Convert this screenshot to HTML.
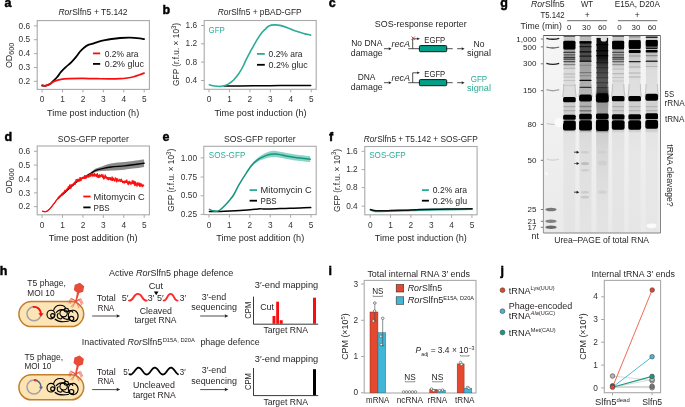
<!DOCTYPE html>
<html><head><meta charset="utf-8"><style>
html,body{margin:0;padding:0;background:#fff;}
svg{display:block;will-change:transform;font-family:"Liberation Sans",sans-serif;}
</style></head><body>
<svg width="685" height="407" viewBox="0 0 685 407" fill="#231f20">
<defs>
<linearGradient id="sm0" x1="0" y1="35.5" x2="0" y2="233.0" gradientUnits="userSpaceOnUse"><stop offset="0.0025" stop-color="#c8c8c8"/><stop offset="0.0253" stop-color="#c3c3c3"/><stop offset="0.0278" stop-color="#141414"/><stop offset="0.0684" stop-color="#141414"/><stop offset="0.0714" stop-color="#a5a5a5"/><stop offset="0.1291" stop-color="#acacac"/><stop offset="0.1494" stop-color="#cdcdcd"/><stop offset="0.1747" stop-color="#dadada"/><stop offset="0.2962" stop-color="#dedede"/><stop offset="0.3418" stop-color="#cdcdcd"/><stop offset="0.3924" stop-color="#cdcdcd"/><stop offset="0.4835" stop-color="#cdcdcd"/><stop offset="0.4937" stop-color="#e2e2e2"/><stop offset="0.6304" stop-color="#e5e5e5"/><stop offset="0.9949" stop-color="#e4e4e4"/></linearGradient>
<linearGradient id="sm1" x1="0" y1="35.5" x2="0" y2="233.0" gradientUnits="userSpaceOnUse"><stop offset="0.0025" stop-color="#bebebe"/><stop offset="0.0253" stop-color="#b9b9b9"/><stop offset="0.0289" stop-color="#282828"/><stop offset="0.0405" stop-color="#464646"/><stop offset="0.1241" stop-color="#505050"/><stop offset="0.1367" stop-color="#a0a0a0"/><stop offset="0.2253" stop-color="#aaaaaa"/><stop offset="0.2962" stop-color="#b9b9b9"/><stop offset="0.3367" stop-color="#b0b0b0"/><stop offset="0.3924" stop-color="#b2b2b2"/><stop offset="0.4835" stop-color="#b2b2b2"/><stop offset="0.4937" stop-color="#dadada"/><stop offset="0.5797" stop-color="#dedede"/><stop offset="0.8329" stop-color="#e2e2e2"/><stop offset="0.9949" stop-color="#e4e4e4"/></linearGradient>
<linearGradient id="sm2" x1="0" y1="35.5" x2="0" y2="233.0" gradientUnits="userSpaceOnUse"><stop offset="0.0025" stop-color="#e1e1e1"/><stop offset="0.0101" stop-color="#d7d7d7"/><stop offset="0.0152" stop-color="#0c0c0c"/><stop offset="0.1139" stop-color="#161616"/><stop offset="0.1544" stop-color="#3c3c3c"/><stop offset="0.2253" stop-color="#555555"/><stop offset="0.2658" stop-color="#505050"/><stop offset="0.2911" stop-color="#3c3c3c"/><stop offset="0.3418" stop-color="#969696"/><stop offset="0.3924" stop-color="#a0a0a0"/><stop offset="0.4835" stop-color="#7d7d7d"/><stop offset="0.4937" stop-color="#cdcdcd"/><stop offset="0.5797" stop-color="#d7d7d7"/><stop offset="0.8329" stop-color="#e1e1e1"/><stop offset="0.9949" stop-color="#e4e4e4"/></linearGradient>
<linearGradient id="sm3" x1="0" y1="35.5" x2="0" y2="233.0" gradientUnits="userSpaceOnUse"><stop offset="0.0025" stop-color="#c8c8c8"/><stop offset="0.0253" stop-color="#c3c3c3"/><stop offset="0.0278" stop-color="#141414"/><stop offset="0.0684" stop-color="#141414"/><stop offset="0.0714" stop-color="#a5a5a5"/><stop offset="0.1291" stop-color="#acacac"/><stop offset="0.1494" stop-color="#cdcdcd"/><stop offset="0.1747" stop-color="#dadada"/><stop offset="0.2962" stop-color="#dedede"/><stop offset="0.3418" stop-color="#cdcdcd"/><stop offset="0.3924" stop-color="#cdcdcd"/><stop offset="0.4835" stop-color="#cdcdcd"/><stop offset="0.4937" stop-color="#e2e2e2"/><stop offset="0.6304" stop-color="#e5e5e5"/><stop offset="0.9949" stop-color="#e4e4e4"/></linearGradient>
<linearGradient id="sm4" x1="0" y1="35.5" x2="0" y2="233.0" gradientUnits="userSpaceOnUse"><stop offset="0.0025" stop-color="#c8c8c8"/><stop offset="0.0228" stop-color="#c3c3c3"/><stop offset="0.0253" stop-color="#141414"/><stop offset="0.0658" stop-color="#141414"/><stop offset="0.0709" stop-color="#b9b9b9"/><stop offset="0.1544" stop-color="#d4d4d4"/><stop offset="0.1747" stop-color="#dcdcdc"/><stop offset="0.2962" stop-color="#e0e0e0"/><stop offset="0.3418" stop-color="#d0d0d0"/><stop offset="0.3924" stop-color="#cecece"/><stop offset="0.4835" stop-color="#cecece"/><stop offset="0.4937" stop-color="#e4e4e4"/><stop offset="0.6304" stop-color="#e7e7e7"/><stop offset="0.9949" stop-color="#e6e6e6"/></linearGradient>
<linearGradient id="sm5" x1="0" y1="35.5" x2="0" y2="233.0" gradientUnits="userSpaceOnUse"><stop offset="0.0025" stop-color="#c8c8c8"/><stop offset="0.0228" stop-color="#c3c3c3"/><stop offset="0.0253" stop-color="#141414"/><stop offset="0.0658" stop-color="#141414"/><stop offset="0.0709" stop-color="#b9b9b9"/><stop offset="0.1544" stop-color="#d4d4d4"/><stop offset="0.1747" stop-color="#dcdcdc"/><stop offset="0.2962" stop-color="#e0e0e0"/><stop offset="0.3418" stop-color="#d0d0d0"/><stop offset="0.3924" stop-color="#cecece"/><stop offset="0.4835" stop-color="#cecece"/><stop offset="0.4937" stop-color="#e4e4e4"/><stop offset="0.6304" stop-color="#e7e7e7"/><stop offset="0.9949" stop-color="#e6e6e6"/></linearGradient>
<linearGradient id="gelbg" x1="0" y1="0" x2="0" y2="1"><stop offset="0" stop-color="#f6f6f6"/><stop offset="0.5" stop-color="#f0f0f0"/><stop offset="1" stop-color="#eaeaea"/></linearGradient>
<filter id="bg" x="-5%" y="-5%" width="110%" height="110%"><feGaussianBlur stdDeviation="0.75"/></filter>
<filter id="b1" x="-20%" y="-20%" width="140%" height="140%"><feGaussianBlur stdDeviation="0.6"/></filter>
<filter id="b2" x="-20%" y="-20%" width="140%" height="140%"><feGaussianBlur stdDeviation="1.0"/></filter>
<filter id="b3" x="-20%" y="-20%" width="140%" height="140%"><feGaussianBlur stdDeviation="2.0"/></filter>
</defs>
<text x="4.60" y="6.90" font-size="12.5" fill="#000" font-weight="bold" stroke="#000" stroke-width="0.45">a</text>
<text x="162.60" y="13.80" font-size="12.5" fill="#000" font-weight="bold" stroke="#000" stroke-width="0.45">b</text>
<text x="328.70" y="6.90" font-size="12.5" fill="#000" font-weight="bold" stroke="#000" stroke-width="0.45">c</text>
<text x="500.30" y="6.90" font-size="12.5" fill="#000" font-weight="bold" stroke="#000" stroke-width="0.45">g</text>
<text x="4.60" y="141.20" font-size="12.5" fill="#000" font-weight="bold" stroke="#000" stroke-width="0.45">d</text>
<text x="162.60" y="141.20" font-size="12.5" fill="#000" font-weight="bold" stroke="#000" stroke-width="0.45">e</text>
<text x="329.10" y="141.20" font-size="12.5" fill="#000" font-weight="bold" stroke="#000" stroke-width="0.45">f</text>
<text x="-0.20" y="274.80" font-size="12.5" fill="#000" font-weight="bold" stroke="#000" stroke-width="0.45">h</text>
<text x="328.60" y="274.80" font-size="12.5" fill="#000" font-weight="bold" stroke="#000" stroke-width="0.45">i</text>
<text x="500.50" y="274.80" font-size="12.5" fill="#000" font-weight="bold" stroke="#000" stroke-width="0.45">j</text>
<rect x="37.20" y="20.60" width="112.20" height="68.80" fill="none" stroke="#a9a9a9" stroke-width="1.1" rx="0" />
<line x1="34.00" y1="25.90" x2="37.20" y2="25.90" stroke="#a9a9a9" stroke-width="1.0" />
<text x="30.10" y="28.50" font-size="8.3" text-anchor="end" fill="#333">0.6</text>
<line x1="34.00" y1="39.70" x2="37.20" y2="39.70" stroke="#a9a9a9" stroke-width="1.0" />
<text x="30.10" y="42.30" font-size="8.3" text-anchor="end" fill="#333">0.5</text>
<line x1="34.00" y1="53.60" x2="37.20" y2="53.60" stroke="#a9a9a9" stroke-width="1.0" />
<text x="30.10" y="56.20" font-size="8.3" text-anchor="end" fill="#333">0.4</text>
<line x1="34.00" y1="67.50" x2="37.20" y2="67.50" stroke="#a9a9a9" stroke-width="1.0" />
<text x="30.10" y="70.10" font-size="8.3" text-anchor="end" fill="#333">0.3</text>
<line x1="34.00" y1="81.30" x2="37.20" y2="81.30" stroke="#a9a9a9" stroke-width="1.0" />
<text x="30.10" y="83.90" font-size="8.3" text-anchor="end" fill="#333">0.2</text>
<line x1="42.10" y1="89.40" x2="42.10" y2="92.40" stroke="#a9a9a9" stroke-width="1.0" />
<text x="42.10" y="102.20" font-size="8.3" text-anchor="middle" fill="#333">0</text>
<line x1="62.52" y1="89.40" x2="62.52" y2="92.40" stroke="#a9a9a9" stroke-width="1.0" />
<text x="62.52" y="102.20" font-size="8.3" text-anchor="middle" fill="#333">1</text>
<line x1="82.94" y1="89.40" x2="82.94" y2="92.40" stroke="#a9a9a9" stroke-width="1.0" />
<text x="82.94" y="102.20" font-size="8.3" text-anchor="middle" fill="#333">2</text>
<line x1="103.36" y1="89.40" x2="103.36" y2="92.40" stroke="#a9a9a9" stroke-width="1.0" />
<text x="103.36" y="102.20" font-size="8.3" text-anchor="middle" fill="#333">3</text>
<line x1="123.78" y1="89.40" x2="123.78" y2="92.40" stroke="#a9a9a9" stroke-width="1.0" />
<text x="123.78" y="102.20" font-size="8.3" text-anchor="middle" fill="#333">4</text>
<line x1="144.20" y1="89.40" x2="144.20" y2="92.40" stroke="#a9a9a9" stroke-width="1.0" />
<text x="144.20" y="102.20" font-size="8.3" text-anchor="middle" fill="#333">5</text>
<text x="58.40" y="14.90" font-size="9.2" textLength="69.20" lengthAdjust="spacingAndGlyphs"><tspan font-style="italic">Ror</tspan>Slfn5 + T5.142</text>
<text x="47.10" y="115.70" font-size="9.2" textLength="92.10" lengthAdjust="spacingAndGlyphs">Time post induction (h)</text>
<text x="0" y="0" font-size="8.9" transform="translate(11.9 68.10) rotate(-90)" fill="#231f20">OD<tspan font-size="7.2" dy="2.1">600</tspan></text>
<path d="M42.20,85.50 C42.83,85.53 44.57,86.05 46.00,85.70 C47.43,85.35 49.58,84.20 50.80,83.40 C52.02,82.60 52.23,81.97 53.30,80.90 C54.37,79.83 55.92,78.50 57.20,77.00 C58.48,75.50 59.52,73.60 61.00,71.90 C62.48,70.20 64.40,68.40 66.10,66.80 C67.80,65.20 69.50,64.00 71.20,62.30 C72.90,60.60 74.82,58.40 76.30,56.60 C77.78,54.80 78.82,52.98 80.10,51.50 C81.38,50.02 82.72,48.77 84.00,47.70 C85.28,46.63 86.32,45.78 87.80,45.10 C89.28,44.42 91.20,44.13 92.90,43.60 C94.60,43.07 95.98,42.47 98.00,41.90 C100.02,41.33 102.75,40.68 105.00,40.20 C107.25,39.72 109.00,39.37 111.50,39.00 C114.00,38.63 116.95,38.23 120.00,38.00 C123.05,37.77 126.50,37.53 129.80,37.60 C133.10,37.67 137.42,38.13 139.80,38.40 C142.18,38.67 143.38,39.07 144.10,39.20" fill="none" stroke="#000" stroke-width="1.8" stroke-linejoin="round" stroke-linecap="round" />
<path d="M42.00,85.30 C42.62,85.37 44.23,86.02 45.70,85.70 C47.17,85.38 49.32,84.17 50.80,83.40 C52.28,82.63 52.90,81.78 54.60,81.10 C56.30,80.42 58.45,79.72 61.00,79.30 C63.55,78.88 66.28,78.77 69.90,78.60 C73.52,78.43 78.02,78.28 82.70,78.30 C87.38,78.32 93.45,78.60 98.00,78.70 C102.55,78.80 106.33,78.90 110.00,78.90 C113.67,78.90 117.17,78.85 120.00,78.70 C122.83,78.55 124.70,78.33 127.00,78.00 C129.30,77.67 131.80,77.20 133.80,76.70 C135.80,76.20 137.28,75.60 139.00,75.00 C140.72,74.40 143.25,73.42 144.10,73.10" fill="none" stroke="#fb0d0d" stroke-width="1.7" stroke-linejoin="round" stroke-linecap="round" />
<line x1="93.00" y1="53.40" x2="100.20" y2="53.40" stroke="#fb0d0d" stroke-width="1.8" />
<text x="104.70" y="56.50" font-size="9.2" textLength="33.80" lengthAdjust="spacingAndGlyphs">0.2% ara</text>
<line x1="93.00" y1="63.90" x2="100.20" y2="63.90" stroke="#000" stroke-width="1.8" />
<text x="104.70" y="67.00" font-size="9.2" textLength="39.20" lengthAdjust="spacingAndGlyphs">0.2% gluc</text>
<rect x="37.20" y="146.00" width="112.20" height="68.80" fill="none" stroke="#a9a9a9" stroke-width="1.1" rx="0" />
<line x1="34.00" y1="151.30" x2="37.20" y2="151.30" stroke="#a9a9a9" stroke-width="1.0" />
<text x="30.10" y="153.90" font-size="8.3" text-anchor="end" fill="#333">0.6</text>
<line x1="34.00" y1="165.10" x2="37.20" y2="165.10" stroke="#a9a9a9" stroke-width="1.0" />
<text x="30.10" y="167.70" font-size="8.3" text-anchor="end" fill="#333">0.5</text>
<line x1="34.00" y1="179.00" x2="37.20" y2="179.00" stroke="#a9a9a9" stroke-width="1.0" />
<text x="30.10" y="181.60" font-size="8.3" text-anchor="end" fill="#333">0.4</text>
<line x1="34.00" y1="192.90" x2="37.20" y2="192.90" stroke="#a9a9a9" stroke-width="1.0" />
<text x="30.10" y="195.50" font-size="8.3" text-anchor="end" fill="#333">0.3</text>
<line x1="34.00" y1="206.70" x2="37.20" y2="206.70" stroke="#a9a9a9" stroke-width="1.0" />
<text x="30.10" y="209.30" font-size="8.3" text-anchor="end" fill="#333">0.2</text>
<line x1="42.10" y1="214.80" x2="42.10" y2="217.80" stroke="#a9a9a9" stroke-width="1.0" />
<text x="42.10" y="227.60" font-size="8.3" text-anchor="middle" fill="#333">0</text>
<line x1="62.52" y1="214.80" x2="62.52" y2="217.80" stroke="#a9a9a9" stroke-width="1.0" />
<text x="62.52" y="227.60" font-size="8.3" text-anchor="middle" fill="#333">1</text>
<line x1="82.94" y1="214.80" x2="82.94" y2="217.80" stroke="#a9a9a9" stroke-width="1.0" />
<text x="82.94" y="227.60" font-size="8.3" text-anchor="middle" fill="#333">2</text>
<line x1="103.36" y1="214.80" x2="103.36" y2="217.80" stroke="#a9a9a9" stroke-width="1.0" />
<text x="103.36" y="227.60" font-size="8.3" text-anchor="middle" fill="#333">3</text>
<line x1="123.78" y1="214.80" x2="123.78" y2="217.80" stroke="#a9a9a9" stroke-width="1.0" />
<text x="123.78" y="227.60" font-size="8.3" text-anchor="middle" fill="#333">4</text>
<line x1="144.20" y1="214.80" x2="144.20" y2="217.80" stroke="#a9a9a9" stroke-width="1.0" />
<text x="144.20" y="227.60" font-size="8.3" text-anchor="middle" fill="#333">5</text>
<text x="57.80" y="142.00" font-size="9.2" textLength="71.00" lengthAdjust="spacingAndGlyphs">SOS-GFP reporter</text>
<text x="48.70" y="241.10" font-size="9.2" textLength="89.00" lengthAdjust="spacingAndGlyphs">Time post addition (h)</text>
<text x="0" y="0" font-size="8.9" transform="translate(11.9 193.50) rotate(-90)" fill="#231f20">OD<tspan font-size="7.2" dy="2.1">600</tspan></text>
<path d="M58.00,197.90 C58.33,197.60 59.05,196.93 60.00,196.10 C60.95,195.27 62.08,194.33 63.70,192.90 C65.32,191.47 67.70,189.27 69.70,187.50 C71.70,185.73 73.82,183.80 75.70,182.30 C77.58,180.80 79.28,179.58 81.00,178.50 C82.72,177.42 84.27,176.91 86.00,175.80 C87.73,174.69 89.77,173.05 91.40,171.85 C93.03,170.66 93.97,169.58 95.80,168.62 C97.63,167.67 99.85,166.99 102.40,166.13 C104.95,165.28 107.45,164.16 111.10,163.49 C114.75,162.82 120.65,162.51 124.30,162.10 C127.95,161.69 129.90,161.42 133.00,161.00 C136.10,160.58 141.05,159.85 142.90,159.60 C144.75,159.35 143.90,159.52 144.10,159.50 L144.10,167.10 C143.90,167.12 144.75,166.95 142.90,167.20 C141.05,167.45 136.10,168.18 133.00,168.60 C129.90,169.02 127.95,169.38 124.30,169.70 C120.65,170.02 114.75,170.28 111.10,170.51 C107.45,170.74 104.95,170.82 102.40,171.07 C99.85,171.31 97.63,171.46 95.80,171.98 C93.97,172.49 93.03,173.34 91.40,174.15 C89.77,174.95 87.73,175.91 86.00,176.80 C84.27,177.69 82.72,178.42 81.00,179.50 C79.28,180.58 77.58,181.80 75.70,183.30 C73.82,184.80 71.70,186.73 69.70,188.50 C67.70,190.27 65.32,192.47 63.70,193.90 C62.08,195.33 60.95,196.27 60.00,197.10 C59.05,197.93 58.33,198.60 58.00,198.90 Z" fill="#7c7c7c" opacity="0.9"/>
<path d="M58.00,198.40 C58.33,198.10 59.05,197.43 60.00,196.60 C60.95,195.77 62.08,194.83 63.70,193.40 C65.32,191.97 67.70,189.77 69.70,188.00 C71.70,186.23 73.82,184.30 75.70,182.80 C77.58,181.30 79.28,180.08 81.00,179.00 C82.72,177.92 84.27,177.30 86.00,176.30 C87.73,175.30 89.77,174.00 91.40,173.00 C93.03,172.00 93.97,171.03 95.80,170.30 C97.63,169.57 99.85,169.15 102.40,168.60 C104.95,168.05 107.45,167.45 111.10,167.00 C114.75,166.55 120.65,166.27 124.30,165.90 C127.95,165.53 129.90,165.22 133.00,164.80 C136.10,164.38 141.05,163.65 142.90,163.40 C144.75,163.15 143.90,163.32 144.10,163.30" fill="none" stroke="#000" stroke-width="1.4" stroke-linejoin="round" stroke-linecap="round" />
<path d="M42.20,211.12 L42.50,211.28 L42.80,211.29 L43.10,211.43 L43.40,211.50 L43.70,211.40 L44.00,211.45 L44.30,211.76 L44.60,211.61 L44.90,211.54 L45.20,211.71 L45.50,211.49 L45.80,211.54 L46.10,211.37 L46.40,211.36 L46.70,211.16 L47.00,211.24 L47.30,211.05 L47.60,210.69 L47.90,210.49 L48.20,210.21 L48.50,209.77 L48.80,209.72 L49.10,209.41 L49.40,209.06 L49.70,208.72 L50.00,208.71 L50.30,208.22 L50.60,207.93 L50.90,207.61 L51.20,207.19 L51.50,206.89 L51.80,206.36 L52.10,206.12 L52.40,205.64 L52.70,205.42 L53.00,205.04 L53.30,204.44 L53.60,204.08 L53.90,203.74 L54.20,203.56 L54.50,202.98 L54.80,202.62 L55.10,202.11 L55.40,201.75 L55.70,201.29 L56.00,200.87 L56.30,200.52 L56.60,200.10 L56.90,199.78 L57.20,199.29 L57.50,198.95 L57.80,198.51 L58.10,199.09 L58.40,198.15 L58.70,196.84 L59.00,197.94 L59.30,197.85 L59.60,197.44 L59.90,196.47 L60.20,196.47 L60.50,195.17 L60.80,196.11 L61.10,195.30 L61.40,194.43 L61.70,193.69 L62.00,194.98 L62.30,194.96 L62.60,192.86 L62.90,193.99 L63.20,192.91 L63.50,192.10 L63.80,192.09 L64.10,192.76 L64.40,192.69 L64.70,190.76 L65.00,191.62 L65.30,190.20 L65.60,191.26 L65.90,190.21 L66.20,191.03 L66.50,190.95 L66.80,189.72 L67.10,190.42 L67.40,188.77 L67.70,188.02 L68.00,188.79 L68.30,186.24 L68.60,186.70 L68.90,187.34 L69.20,187.95 L69.50,185.67 L69.80,184.90 L70.10,188.28 L70.40,185.60 L70.70,188.18 L71.00,187.66 L71.30,185.13 L71.60,185.24 L71.90,185.25 L72.20,185.55 L72.50,185.09 L72.80,184.68 L73.10,184.70 L73.40,185.86 L73.70,183.70 L74.00,183.11 L74.30,184.14 L74.60,181.76 L74.90,181.79 L75.20,184.52 L75.50,182.26 L75.80,182.16 L76.10,179.62 L76.40,181.23 L76.70,181.79 L77.00,179.15 L77.30,181.60 L77.60,181.51 L77.90,178.82 L78.20,181.15 L78.50,180.27 L78.80,181.03 L79.10,179.43 L79.40,180.82 L79.70,180.78 L80.00,177.46 L80.30,177.46 L80.60,180.00 L80.90,181.10 L81.20,177.82 L81.50,178.61 L81.80,179.09 L82.10,177.77 L82.40,177.84 L82.70,177.50 L83.00,177.62 L83.30,178.50 L83.60,177.08 L83.90,177.30 L84.20,178.92 L84.50,175.52 L84.80,177.78 L85.10,178.39 L85.40,176.40 L85.70,175.90 L86.00,178.34 L86.30,175.73 L86.60,175.38 L86.90,176.35 L87.20,177.38 L87.50,174.64 L87.80,175.48 L88.10,175.41 L88.40,177.49 L88.70,175.63 L89.00,177.34 L89.30,174.20 L89.60,174.81 L89.90,176.07 L90.20,176.98 L90.50,174.95 L90.80,173.83 L91.10,173.25 L91.40,174.93 L91.70,173.45 L92.00,176.18 L92.30,176.33 L92.60,173.46 L92.90,173.89 L93.20,176.23 L93.50,175.52 L93.80,176.25 L94.10,174.24 L94.40,173.30 L94.70,174.03 L95.00,176.25 L95.30,173.96 L95.60,174.31 L95.90,174.63 L96.20,174.69 L96.50,174.70 L96.80,177.01 L97.10,173.71 L97.40,173.10 L97.70,177.30 L98.00,177.08 L98.30,177.61 L98.60,175.24 L98.90,177.57 L99.20,177.53 L99.50,174.49 L99.80,176.85 L100.10,177.31 L100.40,176.61 L100.70,176.04 L101.00,175.09 L101.30,175.38 L101.60,174.94 L101.90,174.30 L102.20,176.65 L102.50,175.39 L102.80,177.79 L103.10,174.51 L103.40,178.38 L103.70,177.55 L104.00,178.65 L104.30,178.62 L104.60,178.72 L104.90,177.40 L105.20,175.01 L105.50,178.32 L105.80,175.89 L106.10,176.54 L106.40,178.23 L106.70,177.71 L107.00,177.31 L107.30,179.72 L107.60,178.37 L107.90,177.27 L108.20,176.97 L108.50,179.74 L108.80,178.14 L109.10,179.57 L109.40,177.77 L109.70,177.18 L110.00,178.75 L110.30,180.09 L110.60,177.34 L110.90,180.16 L111.20,180.82 L111.50,180.40 L111.80,180.57 L112.10,177.07 L112.40,179.89 L112.70,181.01 L113.00,177.53 L113.30,178.59 L113.60,178.64 L113.90,179.84 L114.20,179.44 L114.50,179.72 L114.80,181.12 L115.10,177.77 L115.40,178.06 L115.70,178.44 L116.00,178.49 L116.30,178.30 L116.60,182.35 L116.90,181.88 L117.20,178.56 L117.50,180.45 L117.80,179.69 L118.10,179.74 L118.40,179.97 L118.70,181.33 L119.00,181.12 L119.30,180.19 L119.60,179.50 L119.90,180.17 L120.20,179.32 L120.50,181.28 L120.80,182.05 L121.10,180.63 L121.40,179.37 L121.70,179.87 L122.00,180.78 L122.30,181.86 L122.60,182.70 L122.90,180.99 L123.20,182.91 L123.50,182.18 L123.80,181.40 L124.10,181.20 L124.40,181.80 L124.70,182.75 L125.00,181.55 L125.30,182.80 L125.60,181.82 L125.90,180.91 L126.20,182.24 L126.50,182.98 L126.80,180.28 L127.10,181.88 L127.40,181.93 L127.70,183.97 L128.00,184.26 L128.30,181.83 L128.60,184.18 L128.90,183.76 L129.20,181.47 L129.50,182.41 L129.80,180.95 L130.10,184.03 L130.40,183.41 L130.70,184.44 L131.00,184.07 L131.30,183.56 L131.60,183.90 L131.90,183.20 L132.20,181.21 L132.50,183.39 L132.80,180.87 L133.10,181.52 L133.40,184.34 L133.70,181.17 L134.00,181.43 L134.30,181.50 L134.60,184.99 L134.90,181.94 L135.20,181.30 L135.50,184.99 L135.80,181.91 L136.10,185.17 L136.40,184.51 L136.70,185.31 L137.00,185.90 L137.30,184.35 L137.60,185.40 L137.90,182.13 L138.20,185.43 L138.50,184.39 L138.80,185.38 L139.10,182.78 L139.40,185.70 L139.70,186.60 L140.00,182.84 L140.30,184.08 L140.60,185.22 L140.90,186.47 L141.20,183.98 L141.50,183.79 L141.80,184.19 L142.10,185.88 L142.40,186.57 L142.70,185.08 L143.00,185.03 L143.30,185.21 L143.60,185.06 L143.90,185.41" fill="none" stroke="#fb0d0d" stroke-width="0.8" stroke-linejoin="round"/>
<path d="M42.20,211.02 L42.50,211.28 L42.80,211.40 L43.10,211.41 L43.40,211.56 L43.70,211.31 L44.00,211.49 L44.30,211.82 L44.60,211.65 L44.90,211.54 L45.20,211.70 L45.50,211.53 L45.80,211.64 L46.10,211.29 L46.40,211.26 L46.70,211.21 L47.00,211.34 L47.30,211.05 L47.60,210.67 L47.90,210.54 L48.20,210.14 L48.50,209.71 L48.80,209.65 L49.10,209.43 L49.40,209.02 L49.70,208.66 L50.00,208.76 L50.30,208.33 L50.60,207.88 L50.90,207.66 L51.20,207.17 L51.50,206.97 L51.80,206.38 L52.10,206.06 L52.40,205.58 L52.70,205.31 L53.00,205.03 L53.30,204.41 L53.60,204.00 L53.90,203.70 L54.20,203.52 L54.50,203.05 L54.80,202.54 L55.10,202.22 L55.40,201.74 L55.70,201.32 L56.00,200.86 L56.30,200.60 L56.60,200.18 L56.90,199.79 L57.20,199.29 L57.50,199.00 L57.80,198.59 L58.10,199.06 L58.40,198.21 L58.70,196.95 L59.00,197.93 L59.30,197.79 L59.60,197.38 L59.90,196.53 L60.20,196.51 L60.50,195.28 L60.80,196.20 L61.10,195.24 L61.40,194.36 L61.70,193.64 L62.00,194.90 L62.30,195.45 L62.60,193.72 L62.90,194.95 L63.20,192.32 L63.50,192.97 L63.80,191.65 L64.10,192.58 L64.40,193.24 L64.70,189.76 L65.00,190.64 L65.30,191.00 L65.60,190.76 L65.90,189.86 L66.20,191.22 L66.50,191.37 L66.80,188.53 L67.10,190.03 L67.40,188.61 L67.70,187.99 L68.00,188.09 L68.30,186.45 L68.60,187.79 L68.90,187.08 L69.20,188.06 L69.50,184.76 L69.80,184.36 L70.10,188.68 L70.40,184.67 L70.70,189.11 L71.00,188.64 L71.30,184.16 L71.60,186.30 L71.90,184.95 L72.20,186.20 L72.50,185.71 L72.80,184.19 L73.10,185.12 L73.40,186.23 L73.70,184.43 L74.00,182.55 L74.30,184.75 L74.60,182.87 L74.90,182.21 L75.20,184.61 L75.50,181.33 L75.80,182.14 L76.10,179.27 L76.40,181.75 L76.70,182.21 L77.00,179.31 L77.30,180.84 L77.60,181.86 L77.90,179.13 L78.20,180.38 L78.50,181.20 L78.80,181.41 L79.10,178.52 L79.40,181.85 L79.70,179.92 L80.00,177.06 L80.30,177.99 L80.60,180.23 L80.90,181.23 L81.20,178.18 L81.50,178.51 L81.80,178.64 L82.10,176.99 L82.40,176.81 L82.70,178.01 L83.00,178.24 L83.30,178.60 L83.60,177.66 L83.90,176.96 L84.20,178.36 L84.50,175.24 L84.80,178.68 L85.10,177.30 L85.40,176.42 L85.70,175.29 L86.00,178.98 L86.30,175.38 L86.60,174.98 L86.90,176.12 L87.20,177.48 L87.50,175.29 L87.80,175.13 L88.10,176.25 L88.40,176.56 L88.70,175.08 L89.00,176.38 L89.30,173.27 L89.60,175.48 L89.90,176.62 L90.20,176.23 L90.50,174.21 L90.80,173.63 L91.10,173.84 L91.40,175.69 L91.70,174.05 L92.00,176.40 L92.30,175.48 L92.60,173.22 L92.90,173.16 L93.20,176.30 L93.50,175.68 L93.80,175.54 L94.10,173.64 L94.40,173.98 L94.70,172.90 L95.00,176.98 L95.30,174.90 L95.60,175.38 L95.90,174.35 L96.20,174.81 L96.50,174.90 L96.80,177.33 L97.10,174.85 L97.40,173.55 L97.70,176.81 L98.00,177.94 L98.30,177.57 L98.60,175.48 L98.90,178.11 L99.20,176.34 L99.50,175.14 L99.80,177.24 L100.10,177.29 L100.40,176.67 L100.70,175.94 L101.00,174.35 L101.30,175.45 L101.60,173.83 L101.90,174.30 L102.20,177.00 L102.50,175.26 L102.80,177.94 L103.10,175.61 L103.40,179.32 L103.70,176.67 L104.00,179.35 L104.30,178.92 L104.60,177.65 L104.90,177.06 L105.20,174.37 L105.50,177.30 L105.80,175.98 L106.10,177.57 L106.40,177.80 L106.70,178.60 L107.00,177.78 L107.30,178.84 L107.60,179.23 L107.90,177.51 L108.20,177.99 L108.50,180.26 L108.80,178.71 L109.10,179.20 L109.40,178.50 L109.70,178.21 L110.00,179.62 L110.30,179.93 L110.60,177.95 L110.90,180.12 L111.20,179.88 L111.50,179.30 L111.80,179.56 L112.10,176.35 L112.40,179.08 L112.70,181.01 L113.00,178.01 L113.30,178.68 L113.60,178.45 L113.90,180.20 L114.20,178.97 L114.50,179.64 L114.80,181.73 L115.10,177.53 L115.40,177.29 L115.70,179.40 L116.00,179.02 L116.30,177.98 L116.60,182.04 L116.90,181.95 L117.20,178.79 L117.50,179.79 L117.80,178.50 L118.10,179.05 L118.40,180.65 L118.70,180.47 L119.00,181.03 L119.30,179.46 L119.60,178.80 L119.90,179.38 L120.20,179.09 L120.50,180.49 L120.80,180.92 L121.10,179.70 L121.40,178.58 L121.70,179.84 L122.00,179.73 L122.30,180.71 L122.60,182.58 L122.90,180.77 L123.20,183.39 L123.50,181.10 L123.80,181.17 L124.10,180.95 L124.40,180.66 L124.70,183.87 L125.00,180.88 L125.30,181.83 L125.60,181.76 L125.90,180.11 L126.20,182.53 L126.50,182.61 L126.80,179.38 L127.10,180.81 L127.40,182.48 L127.70,183.43 L128.00,184.95 L128.30,181.75 L128.60,185.22 L128.90,183.28 L129.20,180.87 L129.50,181.84 L129.80,181.70 L130.10,184.34 L130.40,183.04 L130.70,183.47 L131.00,184.51 L131.30,184.69 L131.60,184.12 L131.90,182.01 L132.20,180.09 L132.50,182.41 L132.80,180.08 L133.10,180.41 L133.40,183.27 L133.70,181.55 L134.00,182.39 L134.30,180.79 L134.60,186.12 L134.90,181.89 L135.20,182.03 L135.50,185.99 L135.80,182.96 L136.10,184.05 L136.40,184.04 L136.70,185.56 L137.00,186.98 L137.30,183.36 L137.60,184.90 L137.90,182.97 L138.20,184.51 L138.50,184.13 L138.80,184.98 L139.10,183.22 L139.40,186.72 L139.70,185.82 L140.00,183.42 L140.30,184.65 L140.60,186.03 L140.90,186.60 L141.20,185.00 L141.50,183.46 L141.80,183.98 L142.10,185.23 L142.40,187.24 L142.70,185.03 L143.00,184.48 L143.30,184.42 L143.60,185.59 L143.90,185.66" fill="none" stroke="#fb0d0d" stroke-width="0.7" stroke-linejoin="round" opacity="0.8"/>
<path d="M42.20,211.20 C42.58,211.28 43.70,211.70 44.50,211.70 C45.30,211.70 46.08,211.72 47.00,211.20 C47.92,210.68 48.83,209.85 50.00,208.60 C51.17,207.35 52.70,205.40 54.00,203.70 C55.30,202.00 56.18,200.25 57.80,198.40 C59.42,196.55 61.72,194.50 63.70,192.60 C65.68,190.70 67.70,188.77 69.70,187.00 C71.70,185.23 73.82,183.33 75.70,182.00 C77.58,180.67 79.28,179.83 81.00,179.00 C82.72,178.17 84.27,177.70 86.00,177.00 C87.73,176.30 89.73,175.13 91.40,174.80 C93.07,174.47 94.17,174.75 96.00,175.00 C97.83,175.25 99.52,175.53 102.40,176.30 C105.28,177.07 109.65,178.68 113.30,179.60 C116.95,180.52 120.65,181.17 124.30,181.80 C127.95,182.43 132.10,182.77 135.20,183.40 C138.30,184.03 141.42,185.20 142.90,185.60 C144.38,186.00 143.90,185.77 144.10,185.80" fill="none" stroke="#fb0d0d" stroke-width="1.3"/>
<line x1="83.30" y1="196.50" x2="90.60" y2="196.50" stroke="#fb0d0d" stroke-width="1.8" />
<text x="93.60" y="199.60" font-size="9.2" textLength="51.10" lengthAdjust="spacingAndGlyphs">Mitomycin C</text>
<line x1="83.30" y1="207.40" x2="90.60" y2="207.40" stroke="#000" stroke-width="1.8" />
<text x="93.60" y="210.50" font-size="9.2" textLength="16.00" lengthAdjust="spacingAndGlyphs">PBS</text>
<rect x="204.20" y="20.50" width="112.00" height="68.80" fill="none" stroke="#a9a9a9" stroke-width="1.1" rx="0" />
<line x1="201.00" y1="25.50" x2="204.20" y2="25.50" stroke="#a9a9a9" stroke-width="1.0" />
<text x="197.10" y="28.10" font-size="8.3" text-anchor="end" fill="#333">1.6</text>
<line x1="201.00" y1="43.80" x2="204.20" y2="43.80" stroke="#a9a9a9" stroke-width="1.0" />
<text x="197.10" y="46.40" font-size="8.3" text-anchor="end" fill="#333">1.2</text>
<line x1="201.00" y1="62.10" x2="204.20" y2="62.10" stroke="#a9a9a9" stroke-width="1.0" />
<text x="197.10" y="64.70" font-size="8.3" text-anchor="end" fill="#333">0.8</text>
<line x1="201.00" y1="80.50" x2="204.20" y2="80.50" stroke="#a9a9a9" stroke-width="1.0" />
<text x="197.10" y="83.10" font-size="8.3" text-anchor="end" fill="#333">0.4</text>
<line x1="209.00" y1="89.30" x2="209.00" y2="92.30" stroke="#a9a9a9" stroke-width="1.0" />
<text x="209.00" y="102.20" font-size="8.3" text-anchor="middle" fill="#333">0</text>
<line x1="229.45" y1="89.30" x2="229.45" y2="92.30" stroke="#a9a9a9" stroke-width="1.0" />
<text x="229.45" y="102.20" font-size="8.3" text-anchor="middle" fill="#333">1</text>
<line x1="249.90" y1="89.30" x2="249.90" y2="92.30" stroke="#a9a9a9" stroke-width="1.0" />
<text x="249.90" y="102.20" font-size="8.3" text-anchor="middle" fill="#333">2</text>
<line x1="270.35" y1="89.30" x2="270.35" y2="92.30" stroke="#a9a9a9" stroke-width="1.0" />
<text x="270.35" y="102.20" font-size="8.3" text-anchor="middle" fill="#333">3</text>
<line x1="290.80" y1="89.30" x2="290.80" y2="92.30" stroke="#a9a9a9" stroke-width="1.0" />
<text x="290.80" y="102.20" font-size="8.3" text-anchor="middle" fill="#333">4</text>
<line x1="311.25" y1="89.30" x2="311.25" y2="92.30" stroke="#a9a9a9" stroke-width="1.0" />
<text x="311.25" y="102.20" font-size="8.3" text-anchor="middle" fill="#333">5</text>
<text x="217.80" y="14.90" font-size="9.2" textLength="83.90" lengthAdjust="spacingAndGlyphs"><tspan font-style="italic">Ror</tspan>Slfn5 + pBAD-GFP</text>
<text x="214.40" y="115.70" font-size="9.2" textLength="92.10" lengthAdjust="spacingAndGlyphs">Time post induction (h)</text>
<text x="0" y="0" font-size="8.9" text-anchor="middle" textLength="63" lengthAdjust="spacingAndGlyphs" transform="translate(179.40 54.40) rotate(-90)">GFP (r.f.u. × 10<tspan font-size="6.3" dy="-3.3">3</tspan><tspan dy="3.3">)</tspan></text>
<text x="208.60" y="32.50" font-size="9.2" fill="#2aac96" textLength="16.20" lengthAdjust="spacingAndGlyphs">GFP</text>
<path d="M224.20,86.00 C226.83,85.98 234.03,85.93 240.00,85.90 C245.97,85.87 253.33,85.85 260.00,85.80 C266.67,85.75 273.33,85.67 280.00,85.60 C286.67,85.53 294.88,85.43 300.00,85.40 C305.12,85.37 308.92,85.40 310.70,85.40" fill="none" stroke="#000" stroke-width="1.5" stroke-linejoin="round" stroke-linecap="round" />
<path d="M209.40,84.80 C210.00,84.95 211.73,85.47 213.00,85.70 C214.27,85.93 215.78,86.08 217.00,86.20 C218.22,86.32 218.97,86.52 220.30,86.40 C221.63,86.28 223.43,86.05 225.00,85.50 C226.57,84.95 228.27,84.02 229.70,83.10 C231.13,82.18 232.28,81.30 233.60,80.00 C234.92,78.70 236.42,76.87 237.60,75.30 C238.78,73.73 239.72,72.23 240.70,70.60 C241.68,68.97 242.65,67.20 243.50,65.50 C244.35,63.80 244.75,62.55 245.80,60.40 C246.85,58.25 248.48,55.05 249.80,52.60 C251.12,50.15 252.40,48.00 253.70,45.70 C255.00,43.40 256.28,40.93 257.60,38.80 C258.92,36.67 260.28,34.53 261.60,32.90 C262.92,31.27 264.28,30.17 265.50,29.00 C266.72,27.83 267.35,26.58 268.90,25.90 C270.45,25.22 272.98,24.98 274.80,24.90 C276.62,24.82 277.65,24.90 279.80,25.40 C281.95,25.90 285.05,26.98 287.70,27.90 C290.35,28.82 293.05,29.98 295.70,30.90 C298.35,31.82 301.12,32.70 303.60,33.40 C306.08,34.10 309.43,34.82 310.60,35.10" fill="none" stroke="#2aac96" stroke-width="1.6" stroke-linejoin="round" stroke-linecap="round" />
<line x1="257.00" y1="53.90" x2="264.80" y2="53.90" stroke="#2aac96" stroke-width="1.8" />
<text x="268.60" y="57.20" font-size="9.2" textLength="33.80" lengthAdjust="spacingAndGlyphs">0.2% ara</text>
<line x1="257.00" y1="64.80" x2="264.80" y2="64.80" stroke="#000" stroke-width="1.8" />
<text x="268.60" y="68.00" font-size="9.2" textLength="39.20" lengthAdjust="spacingAndGlyphs">0.2% gluc</text>
<rect x="203.80" y="146.30" width="112.40" height="68.30" fill="none" stroke="#a9a9a9" stroke-width="1.1" rx="0" />
<line x1="200.60" y1="157.90" x2="203.80" y2="157.90" stroke="#a9a9a9" stroke-width="1.0" />
<text x="197.00" y="160.50" font-size="8.3" text-anchor="end" fill="#333">1.00</text>
<line x1="200.60" y1="177.00" x2="203.80" y2="177.00" stroke="#a9a9a9" stroke-width="1.0" />
<text x="197.00" y="179.60" font-size="8.3" text-anchor="end" fill="#333">0.75</text>
<line x1="200.60" y1="195.80" x2="203.80" y2="195.80" stroke="#a9a9a9" stroke-width="1.0" />
<text x="197.00" y="198.40" font-size="8.3" text-anchor="end" fill="#333">0.50</text>
<line x1="200.60" y1="214.40" x2="203.80" y2="214.40" stroke="#a9a9a9" stroke-width="1.0" />
<text x="197.00" y="217.00" font-size="8.3" text-anchor="end" fill="#333">0.25</text>
<line x1="209.00" y1="214.60" x2="209.00" y2="217.60" stroke="#a9a9a9" stroke-width="1.0" />
<text x="209.00" y="227.60" font-size="8.3" text-anchor="middle" fill="#333">0</text>
<line x1="229.40" y1="214.60" x2="229.40" y2="217.60" stroke="#a9a9a9" stroke-width="1.0" />
<text x="229.40" y="227.60" font-size="8.3" text-anchor="middle" fill="#333">1</text>
<line x1="249.80" y1="214.60" x2="249.80" y2="217.60" stroke="#a9a9a9" stroke-width="1.0" />
<text x="249.80" y="227.60" font-size="8.3" text-anchor="middle" fill="#333">2</text>
<line x1="270.20" y1="214.60" x2="270.20" y2="217.60" stroke="#a9a9a9" stroke-width="1.0" />
<text x="270.20" y="227.60" font-size="8.3" text-anchor="middle" fill="#333">3</text>
<line x1="290.60" y1="214.60" x2="290.60" y2="217.60" stroke="#a9a9a9" stroke-width="1.0" />
<text x="290.60" y="227.60" font-size="8.3" text-anchor="middle" fill="#333">4</text>
<line x1="311.00" y1="214.60" x2="311.00" y2="217.60" stroke="#a9a9a9" stroke-width="1.0" />
<text x="311.00" y="227.60" font-size="8.3" text-anchor="middle" fill="#333">5</text>
<text x="224.10" y="142.00" font-size="9.2" textLength="71.60" lengthAdjust="spacingAndGlyphs">SOS-GFP reporter</text>
<text x="216.20" y="241.30" font-size="9.2" textLength="88.00" lengthAdjust="spacingAndGlyphs">Time post addition (h)</text>
<text x="0" y="0" font-size="8.9" text-anchor="middle" textLength="63" lengthAdjust="spacingAndGlyphs" transform="translate(174.00 180.30) rotate(-90)">GFP (r.f.u. × 10<tspan font-size="6.3" dy="-3.3">3</tspan><tspan dy="3.3">)</tspan></text>
<text x="208.80" y="157.90" font-size="9.2" fill="#2aac96" textLength="36.50" lengthAdjust="spacingAndGlyphs">SOS-GFP</text>
<path d="M209.40,209.10 C209.92,209.32 211.32,210.10 212.50,210.40 C213.68,210.70 215.37,210.93 216.50,210.90 C217.63,210.87 217.95,211.10 219.30,210.20 C220.65,209.30 222.82,207.28 224.60,205.50 C226.38,203.72 228.45,201.38 230.00,199.50 C231.55,197.62 232.58,196.40 233.90,194.20 C235.22,192.00 236.57,188.73 237.90,186.30 C239.23,183.87 240.45,181.99 241.90,179.60 C243.35,177.21 245.03,174.48 246.60,171.99 C248.17,169.49 249.63,166.82 251.30,164.62 C252.97,162.42 254.85,160.40 256.60,158.79 C258.35,157.18 259.70,156.18 261.80,154.96 C263.90,153.75 266.92,152.18 269.20,151.50 C271.48,150.82 273.40,150.82 275.50,150.90 C277.60,150.98 279.52,151.55 281.80,152.00 C284.08,152.45 286.57,153.13 289.20,153.60 C291.83,154.07 295.13,154.48 297.60,154.80 C300.07,155.12 301.90,155.27 304.00,155.50 C306.10,155.73 309.17,156.08 310.20,156.20 L310.20,162.20 C309.17,162.08 306.10,161.73 304.00,161.50 C301.90,161.27 300.07,161.12 297.60,160.80 C295.13,160.48 291.83,160.07 289.20,159.60 C286.57,159.13 284.08,158.45 281.80,158.00 C279.52,157.55 277.60,156.98 275.50,156.90 C273.40,156.82 271.48,157.01 269.20,157.50 C266.92,157.99 263.90,159.02 261.80,159.84 C259.70,160.65 258.35,161.22 256.60,162.41 C254.85,163.60 252.97,165.18 251.30,166.98 C249.63,168.78 248.17,171.01 246.60,173.21 C245.03,175.42 243.35,177.92 241.90,180.20 C240.45,182.48 239.23,184.47 237.90,186.90 C236.57,189.33 235.22,192.60 233.90,194.80 C232.58,197.00 231.55,198.22 230.00,200.10 C228.45,201.98 226.38,204.32 224.60,206.10 C222.82,207.88 220.65,209.90 219.30,210.80 C217.95,211.70 217.63,211.47 216.50,211.50 C215.37,211.53 213.68,211.30 212.50,211.00 C211.32,210.70 209.92,209.92 209.40,209.70 Z" fill="#79cdbd" opacity="0.85"/>
<path d="M209.40,211.40 C211.17,211.40 216.57,211.47 220.00,211.40 C223.43,211.33 226.67,211.17 230.00,211.00 C233.33,210.83 236.67,210.60 240.00,210.40 C243.33,210.20 247.33,210.00 250.00,209.80 C252.67,209.60 254.33,209.38 256.00,209.20 C257.67,209.02 258.67,208.72 260.00,208.70 C261.33,208.68 262.33,209.07 264.00,209.10 C265.67,209.13 267.33,208.98 270.00,208.90 C272.67,208.82 276.67,208.70 280.00,208.60 C283.33,208.50 286.67,208.40 290.00,208.30 C293.33,208.20 296.55,208.12 300.00,208.00 C303.45,207.88 308.92,207.67 310.70,207.60" fill="none" stroke="#000" stroke-width="1.5" stroke-linejoin="round" stroke-linecap="round" />
<path d="M209.40,209.40 C209.92,209.62 211.32,210.40 212.50,210.70 C213.68,211.00 215.37,211.23 216.50,211.20 C217.63,211.17 217.95,211.40 219.30,210.50 C220.65,209.60 222.82,207.58 224.60,205.80 C226.38,204.02 228.45,201.68 230.00,199.80 C231.55,197.92 232.58,196.70 233.90,194.50 C235.22,192.30 236.57,189.03 237.90,186.60 C239.23,184.17 240.45,182.23 241.90,179.90 C243.35,177.57 245.03,174.95 246.60,172.60 C248.17,170.25 249.63,167.80 251.30,165.80 C252.97,163.80 254.85,162.00 256.60,160.60 C258.35,159.20 259.70,158.42 261.80,157.40 C263.90,156.38 266.92,155.08 269.20,154.50 C271.48,153.92 273.40,153.82 275.50,153.90 C277.60,153.98 279.52,154.55 281.80,155.00 C284.08,155.45 286.57,156.13 289.20,156.60 C291.83,157.07 295.13,157.48 297.60,157.80 C300.07,158.12 301.90,158.27 304.00,158.50 C306.10,158.73 309.17,159.08 310.20,159.20" fill="none" stroke="#14967f" stroke-width="1.5" stroke-linejoin="round" stroke-linecap="round" />
<line x1="249.60" y1="190.10" x2="257.00" y2="190.10" stroke="#2aac96" stroke-width="1.8" />
<text x="260.60" y="193.30" font-size="9.2" textLength="51.10" lengthAdjust="spacingAndGlyphs">Mitomycin C</text>
<line x1="249.60" y1="200.70" x2="257.00" y2="200.70" stroke="#000" stroke-width="1.8" />
<text x="260.60" y="203.90" font-size="9.2" textLength="16.00" lengthAdjust="spacingAndGlyphs">PBS</text>
<rect x="364.80" y="146.50" width="112.30" height="68.30" fill="none" stroke="#a9a9a9" stroke-width="1.1" rx="0" />
<line x1="361.60" y1="151.30" x2="364.80" y2="151.30" stroke="#a9a9a9" stroke-width="1.0" />
<text x="357.70" y="153.90" font-size="8.3" text-anchor="end" fill="#333">1.6</text>
<line x1="361.60" y1="169.60" x2="364.80" y2="169.60" stroke="#a9a9a9" stroke-width="1.0" />
<text x="357.70" y="172.20" font-size="8.3" text-anchor="end" fill="#333">1.2</text>
<line x1="361.60" y1="187.60" x2="364.80" y2="187.60" stroke="#a9a9a9" stroke-width="1.0" />
<text x="357.70" y="190.20" font-size="8.3" text-anchor="end" fill="#333">0.8</text>
<line x1="361.60" y1="206.20" x2="364.80" y2="206.20" stroke="#a9a9a9" stroke-width="1.0" />
<text x="357.70" y="208.80" font-size="8.3" text-anchor="end" fill="#333">0.4</text>
<line x1="370.20" y1="214.80" x2="370.20" y2="217.80" stroke="#a9a9a9" stroke-width="1.0" />
<text x="370.20" y="227.80" font-size="8.3" text-anchor="middle" fill="#333">0</text>
<line x1="390.55" y1="214.80" x2="390.55" y2="217.80" stroke="#a9a9a9" stroke-width="1.0" />
<text x="390.55" y="227.80" font-size="8.3" text-anchor="middle" fill="#333">1</text>
<line x1="410.90" y1="214.80" x2="410.90" y2="217.80" stroke="#a9a9a9" stroke-width="1.0" />
<text x="410.90" y="227.80" font-size="8.3" text-anchor="middle" fill="#333">2</text>
<line x1="431.25" y1="214.80" x2="431.25" y2="217.80" stroke="#a9a9a9" stroke-width="1.0" />
<text x="431.25" y="227.80" font-size="8.3" text-anchor="middle" fill="#333">3</text>
<line x1="451.60" y1="214.80" x2="451.60" y2="217.80" stroke="#a9a9a9" stroke-width="1.0" />
<text x="451.60" y="227.80" font-size="8.3" text-anchor="middle" fill="#333">4</text>
<line x1="471.95" y1="214.80" x2="471.95" y2="217.80" stroke="#a9a9a9" stroke-width="1.0" />
<text x="471.95" y="227.80" font-size="8.3" text-anchor="middle" fill="#333">5</text>
<text x="363.80" y="142.00" font-size="9.2" textLength="113.90" lengthAdjust="spacingAndGlyphs"><tspan font-style="italic">Ror</tspan>Slfn5 + T5.142 + SOS-GFP</text>
<text x="374.80" y="241.30" font-size="9.2" textLength="92.10" lengthAdjust="spacingAndGlyphs">Time post induction (h)</text>
<text x="0" y="0" font-size="8.9" text-anchor="middle" textLength="63" lengthAdjust="spacingAndGlyphs" transform="translate(339.60 180.50) rotate(-90)">GFP (r.f.u. × 10<tspan font-size="6.3" dy="-3.3">3</tspan><tspan dy="3.3">)</tspan></text>
<text x="369.20" y="157.90" font-size="9.2" fill="#2aac96" textLength="36.50" lengthAdjust="spacingAndGlyphs">SOS-GFP</text>
<path d="M370.50,209.90 C371.08,210.07 372.75,210.68 374.00,210.90 C375.25,211.12 375.33,211.18 378.00,211.20 C380.67,211.22 385.50,211.10 390.00,211.00 C394.50,210.90 400.00,210.77 405.00,210.60 C410.00,210.43 414.17,210.17 420.00,210.00 C425.83,209.83 433.33,209.72 440.00,209.60 C446.67,209.48 454.67,209.38 460.00,209.30 C465.33,209.22 470.00,209.13 472.00,209.10" fill="none" stroke="#2aac96" stroke-width="2.0" stroke-linejoin="round" stroke-linecap="round" />
<path d="M370.50,209.50 C371.08,209.67 372.75,210.28 374.00,210.50 C375.25,210.72 375.33,210.78 378.00,210.80 C380.67,210.82 385.50,210.70 390.00,210.60 C394.50,210.50 400.00,210.37 405.00,210.20 C410.00,210.03 414.17,209.77 420.00,209.60 C425.83,209.43 433.33,209.32 440.00,209.20 C446.67,209.08 454.67,208.98 460.00,208.90 C465.33,208.82 470.00,208.73 472.00,208.70" fill="none" stroke="#111" stroke-width="1.5" stroke-linejoin="round" stroke-linecap="round" />
<line x1="421.90" y1="190.10" x2="428.90" y2="190.10" stroke="#2aac96" stroke-width="1.8" />
<text x="432.80" y="193.30" font-size="9.2" textLength="34.30" lengthAdjust="spacingAndGlyphs">0.2% ara</text>
<line x1="421.90" y1="200.70" x2="428.90" y2="200.70" stroke="#000" stroke-width="1.8" />
<text x="432.80" y="203.90" font-size="9.2" textLength="34.30" lengthAdjust="spacingAndGlyphs">0.2% glu</text>
<text x="374.80" y="26.80" font-size="9.2" textLength="91.90" lengthAdjust="spacingAndGlyphs">SOS-response reporter</text>
<text x="351.20" y="45.70" font-size="9.2" textLength="31.10" lengthAdjust="spacingAndGlyphs">No DNA</text>
<text x="350.80" y="55.60" font-size="9.2" textLength="31.90" lengthAdjust="spacingAndGlyphs">damage</text>
<line x1="384.00" y1="48.70" x2="389.80" y2="48.70" stroke="#231f20" stroke-width="0.8" />
<path d="M391.60,48.70 L388.54,47.26 L389.08,48.70 L388.54,50.14 Z" fill="#231f20"/>
<text x="391.50" y="46.80" font-size="9.2" font-style="italic" textLength="18.60" lengthAdjust="spacingAndGlyphs">recA</text>
<line x1="408.20" y1="48.70" x2="452.70" y2="48.70" stroke="#222" stroke-width="0.8" />
<path d="M412.7,48.70 L412.7,38.80 L418.0,38.80" fill="none" stroke="#222" stroke-width="0.8"/>
<path d="M420.0,38.80 L417.2,37.50 L417.2,40.10 Z" fill="#222"/>
<rect x="419.40" y="45.60" width="27.30" height="6.10" fill="#02a088" stroke="#161616" stroke-width="1.0" rx="1" />
<text x="424.30" y="42.70" font-size="9.2" textLength="20.90" lengthAdjust="spacingAndGlyphs">EGFP</text>
<line x1="457.20" y1="48.70" x2="462.80" y2="48.70" stroke="#231f20" stroke-width="0.8" />
<path d="M464.60,48.70 L461.54,47.26 L462.08,48.70 L461.54,50.14 Z" fill="#231f20"/>
<path d="M411.6,36.6 L414.8,39.8 M414.8,36.6 L411.6,39.8" stroke="#e8262d" stroke-width="0.9"/>
<text x="473.60" y="46.70" font-size="9.2" textLength="10.90" lengthAdjust="spacingAndGlyphs">No</text>
<text x="467.00" y="55.70" font-size="9.2" textLength="24.00" lengthAdjust="spacingAndGlyphs">signal</text>
<text x="350.80" y="90.11" font-size="9.2" textLength="31.90" lengthAdjust="spacingAndGlyphs">damage</text>
<line x1="384.00" y1="82.70" x2="389.80" y2="82.70" stroke="#231f20" stroke-width="0.8" />
<path d="M391.60,82.70 L388.54,81.26 L389.08,82.70 L388.54,84.14 Z" fill="#231f20"/>
<text x="391.50" y="80.80" font-size="9.2" font-style="italic" textLength="18.60" lengthAdjust="spacingAndGlyphs">recA</text>
<line x1="408.20" y1="82.70" x2="452.70" y2="82.70" stroke="#222" stroke-width="0.8" />
<path d="M412.7,82.70 L412.7,72.80 L418.0,72.80" fill="none" stroke="#222" stroke-width="0.8"/>
<path d="M420.0,72.80 L417.2,71.50 L417.2,74.10 Z" fill="#222"/>
<rect x="419.40" y="79.60" width="27.30" height="6.10" fill="#02a088" stroke="#161616" stroke-width="1.0" rx="1" />
<text x="424.30" y="76.70" font-size="9.2" textLength="20.90" lengthAdjust="spacingAndGlyphs">EGFP</text>
<line x1="457.20" y1="82.70" x2="462.80" y2="82.70" stroke="#231f20" stroke-width="0.8" />
<path d="M464.60,82.70 L461.54,81.26 L462.08,82.70 L461.54,84.14 Z" fill="#231f20"/>
<text x="357.70" y="79.90" font-size="9.2" textLength="17.80" lengthAdjust="spacingAndGlyphs">DNA</text>
<text x="470.70" y="81.50" font-size="9.2" fill="#2aac96" textLength="16.50" lengthAdjust="spacingAndGlyphs">GFP</text>
<text x="467.00" y="90.80" font-size="9.2" fill="#2aac96" textLength="24.00" lengthAdjust="spacingAndGlyphs">signal</text>
<rect x="543.4" y="35.5" width="117.10000000000002" height="197.5" fill="url(#gelbg)"/>
<g filter="url(#bg)"><polygon points="563.60,36.00 575.20,36.00 575.20,86.00 575.70,95.00 575.50,103.00 575.20,112.00 575.60,122.00 575.20,232.00 563.60,232.00 563.20,122.00 563.60,112.00 563.30,103.00 563.10,95.00 563.60,86.00" fill="url(#sm0)"/>
<polygon points="579.70,36.00 591.30,36.00 591.30,86.00 591.80,95.00 591.60,103.00 591.30,112.00 591.70,122.00 591.30,232.00 579.70,232.00 579.30,122.00 579.70,112.00 579.40,103.00 579.20,95.00 579.70,86.00" fill="url(#sm1)"/>
<polygon points="596.50,36.00 608.10,36.00 608.10,86.00 608.60,95.00 608.40,103.00 608.10,112.00 608.50,122.00 608.10,232.00 596.50,232.00 596.10,122.00 596.50,112.00 596.20,103.00 596.00,95.00 596.50,86.00" fill="url(#sm2)"/>
<polygon points="612.40,36.00 624.00,36.00 624.00,86.00 624.50,95.00 624.30,103.00 624.00,112.00 624.40,122.00 624.00,232.00 612.40,232.00 612.00,122.00 612.40,112.00 612.10,103.00 611.90,95.00 612.40,86.00" fill="url(#sm3)"/>
<polygon points="628.90,36.00 640.50,36.00 640.50,86.00 641.00,95.00 640.80,103.00 640.50,112.00 640.90,122.00 640.50,232.00 628.90,232.00 628.50,122.00 628.90,112.00 628.60,103.00 628.40,95.00 628.90,86.00" fill="url(#sm4)"/>
<polygon points="645.90,36.00 657.50,36.00 657.50,86.00 658.00,95.00 657.80,103.00 657.50,112.00 657.90,122.00 657.50,232.00 645.90,232.00 645.50,122.00 645.90,112.00 645.60,103.00 645.40,95.00 645.90,86.00" fill="url(#sm5)"/>
<rect x="563.40" y="36.20" width="12.00" height="0.90" rx="0.6" fill="#3c3c3c"/>
<rect x="563.40" y="40.70" width="12.00" height="8.70" rx="1.5" fill="#000000"/>
<rect x="563.40" y="51.80" width="12.00" height="1.20" rx="0.6" fill="#3c3c3c"/>
<rect x="563.40" y="54.20" width="12.00" height="1.20" rx="0.6" fill="#505050"/>
<rect x="563.40" y="56.70" width="12.00" height="1.20" rx="0.6" fill="#373737"/>
<rect x="563.40" y="58.50" width="12.00" height="1.20" rx="0.6" fill="#3c3c3c"/>
<rect x="563.40" y="61.00" width="12.00" height="1.20" rx="0.6" fill="#505050"/>
<rect x="563.40" y="64.10" width="12.00" height="1.20" rx="0.6" fill="#828282"/>
<rect x="563.40" y="67.80" width="12.00" height="1.00" rx="0.6" fill="#afafaf"/>
<rect x="563.40" y="73.40" width="12.00" height="1.00" rx="0.6" fill="#b4b4b4"/>
<rect x="563.40" y="76.40" width="12.00" height="1.00" rx="0.6" fill="#bebebe"/>
<rect x="563.40" y="80.10" width="12.00" height="1.00" rx="0.6" fill="#c3c3c3"/>
<rect x="563.40" y="85.00" width="12.00" height="1.00" rx="0.6" fill="#c8c8c8"/>
<rect x="563.10" y="97.00" width="12.60" height="5.20" rx="1.5" fill="#000000"/>
<rect x="563.40" y="106.00" width="12.00" height="1.20" rx="0.6" fill="#aaaaaa"/>
<rect x="563.40" y="110.00" width="12.00" height="1.20" rx="0.6" fill="#afafaf"/>
<rect x="563.10" y="114.80" width="12.60" height="5.00" rx="1.5" fill="#000000"/>
<rect x="563.00" y="120.50" width="12.80" height="10.00" rx="2" fill="#000000"/>
<rect x="579.50" y="36.20" width="12.00" height="0.80" rx="0.6" fill="#787878"/>
<rect x="579.50" y="41.20" width="12.00" height="2.30" rx="0.6" fill="#000000"/>
<rect x="579.50" y="46.00" width="12.00" height="1.30" rx="0.6" fill="#191919"/>
<rect x="579.50" y="51.20" width="12.00" height="1.20" rx="0.6" fill="#0a0a0a"/>
<rect x="579.50" y="55.40" width="12.00" height="1.40" rx="0.6" fill="#191919"/>
<rect x="579.50" y="60.40" width="12.00" height="1.40" rx="0.6" fill="#050505"/>
<rect x="579.50" y="64.80" width="12.00" height="1.00" rx="0.6" fill="#828282"/>
<rect x="579.50" y="72.00" width="12.00" height="1.20" rx="0.6" fill="#787878"/>
<rect x="579.50" y="75.20" width="12.00" height="1.00" rx="0.6" fill="#828282"/>
<rect x="579.50" y="79.70" width="12.00" height="1.40" rx="0.6" fill="#0f0f0f"/>
<rect x="579.50" y="86.70" width="12.00" height="1.30" rx="0.6" fill="#323232"/>
<rect x="579.10" y="94.40" width="12.80" height="7.20" rx="2" fill="#000000"/>
<rect x="579.50" y="105.80" width="12.00" height="1.40" rx="0.6" fill="#828282"/>
<rect x="579.50" y="110.00" width="12.00" height="1.40" rx="0.6" fill="#737373"/>
<rect x="579.20" y="113.80" width="12.60" height="5.80" rx="1.5" fill="#000000"/>
<rect x="579.10" y="120.30" width="12.80" height="10.20" rx="2" fill="#000000"/>
<ellipse cx="585.00" cy="152.2" rx="4.2" ry="1.2" fill="#cdcdcd"/>
<ellipse cx="585.00" cy="163.6" rx="4.2" ry="1.6" fill="#bebebe"/>
<ellipse cx="585.00" cy="170.3" rx="4.2" ry="1.2" fill="#cecece"/>
<ellipse cx="585.00" cy="192.3" rx="4.2" ry="1.3" fill="#cbcbcb"/>
<ellipse cx="585.00" cy="197.2" rx="4.2" ry="1.4" fill="#c8c8c8"/>
<rect x="596.30" y="44.00" width="12.00" height="1.50" rx="0.6" fill="#000000"/>
<rect x="596.30" y="50.00" width="12.00" height="1.50" rx="0.6" fill="#000000"/>
<rect x="596.30" y="55.00" width="12.00" height="1.50" rx="0.6" fill="#050505"/>
<rect x="596.30" y="62.00" width="12.00" height="1.30" rx="0.6" fill="#1e1e1e"/>
<rect x="596.30" y="67.00" width="12.00" height="1.30" rx="0.6" fill="#2d2d2d"/>
<rect x="596.30" y="72.00" width="12.00" height="1.30" rx="0.6" fill="#373737"/>
<rect x="596.30" y="77.00" width="12.00" height="1.30" rx="0.6" fill="#3c3c3c"/>
<rect x="596.30" y="82.00" width="12.00" height="1.30" rx="0.6" fill="#3c3c3c"/>
<rect x="596.30" y="87.00" width="12.00" height="1.30" rx="0.6" fill="#323232"/>
<rect x="595.90" y="93.20" width="12.80" height="9.20" rx="2.5" fill="#000000"/>
<rect x="596.00" y="113.40" width="12.60" height="5.60" rx="1.5" fill="#000000"/>
<rect x="595.90" y="119.60" width="12.80" height="11.40" rx="2.5" fill="#000000"/>
<ellipse cx="602.30" cy="152" rx="4.5" ry="1.5" fill="#d0d0d0"/>
<ellipse cx="602.30" cy="163" rx="4.5" ry="2.5" fill="#d0d0d0"/>
<ellipse cx="602.30" cy="192" rx="4.5" ry="1.8" fill="#d2d2d2"/>
<ellipse cx="603.80" cy="39.0" rx="3.2" ry="2.6" fill="#e0e0e0"/>
<rect x="612.20" y="36.20" width="12.00" height="0.90" rx="0.6" fill="#3c3c3c"/>
<rect x="612.20" y="40.70" width="12.00" height="8.50" rx="1.5" fill="#000000"/>
<rect x="612.20" y="51.80" width="12.00" height="1.20" rx="0.6" fill="#4b4b4b"/>
<rect x="612.20" y="54.20" width="12.00" height="1.20" rx="0.6" fill="#5f5f5f"/>
<rect x="612.20" y="56.70" width="12.00" height="1.20" rx="0.6" fill="#464646"/>
<rect x="612.20" y="58.50" width="12.00" height="1.20" rx="0.6" fill="#4b4b4b"/>
<rect x="612.20" y="61.00" width="12.00" height="1.20" rx="0.6" fill="#5f5f5f"/>
<rect x="612.20" y="64.10" width="12.00" height="1.20" rx="0.6" fill="#919191"/>
<rect x="612.20" y="68.50" width="12.00" height="1.10" rx="0.6" fill="#b9b9b9"/>
<rect x="612.20" y="73.00" width="12.00" height="1.20" rx="0.6" fill="#b9b9b9"/>
<rect x="612.20" y="77.00" width="12.00" height="1.10" rx="0.6" fill="#c3c3c3"/>
<rect x="612.20" y="80.50" width="12.00" height="1.00" rx="0.6" fill="#c8c8c8"/>
<rect x="611.90" y="95.90" width="12.60" height="5.40" rx="1.5" fill="#000000"/>
<rect x="612.20" y="106.00" width="12.00" height="1.20" rx="0.6" fill="#afafaf"/>
<rect x="612.20" y="110.00" width="12.00" height="1.20" rx="0.6" fill="#b2b2b2"/>
<rect x="611.90" y="114.30" width="12.60" height="5.20" rx="1.5" fill="#000000"/>
<rect x="611.80" y="120.20" width="12.80" height="9.60" rx="2" fill="#000000"/>
<rect x="628.70" y="36.40" width="12.00" height="0.80" rx="0.6" fill="#5a5a5a"/>
<rect x="628.70" y="40.50" width="12.00" height="8.00" rx="1.5" fill="#000000"/>
<rect x="628.70" y="50.10" width="12.00" height="3.00" rx="1" fill="#000000"/>
<rect x="628.70" y="55.50" width="12.00" height="1.10" rx="0.6" fill="#969696"/>
<rect x="628.70" y="61.00" width="12.00" height="1.20" rx="0.6" fill="#282828"/>
<rect x="628.70" y="66.50" width="12.00" height="1.00" rx="0.6" fill="#aaaaaa"/>
<rect x="628.70" y="72.50" width="12.00" height="1.10" rx="0.6" fill="#b2b2b2"/>
<rect x="628.70" y="76.50" width="12.00" height="1.00" rx="0.6" fill="#afafaf"/>
<rect x="628.40" y="96.10" width="12.60" height="5.20" rx="1.5" fill="#000000"/>
<rect x="628.70" y="106.00" width="12.00" height="1.20" rx="0.6" fill="#b4b4b4"/>
<rect x="628.70" y="110.00" width="12.00" height="1.20" rx="0.6" fill="#b2b2b2"/>
<rect x="628.40" y="114.30" width="12.60" height="5.20" rx="1.5" fill="#000000"/>
<rect x="628.30" y="120.20" width="12.80" height="9.60" rx="2" fill="#000000"/>
<rect x="645.70" y="36.60" width="12.00" height="1.40" rx="0.6" fill="#282828"/>
<rect x="645.70" y="40.00" width="12.00" height="6.50" rx="1.5" fill="#050505"/>
<rect x="645.70" y="46.50" width="12.00" height="1.50" rx="0.6" fill="#5a5a5a"/>
<rect x="645.70" y="50.00" width="12.00" height="2.60" rx="1" fill="#050505"/>
<rect x="645.70" y="55.00" width="12.00" height="1.20" rx="0.6" fill="#8c8c8c"/>
<rect x="645.70" y="60.50" width="12.00" height="1.50" rx="0.6" fill="#323232"/>
<rect x="645.70" y="66.00" width="12.00" height="1.00" rx="0.6" fill="#b4b4b4"/>
<rect x="645.30" y="93.80" width="12.80" height="6.90" rx="2" fill="#000000"/>
<rect x="645.70" y="106.00" width="12.00" height="1.20" rx="0.6" fill="#b6b6b6"/>
<rect x="645.70" y="110.00" width="12.00" height="1.20" rx="0.6" fill="#b2b2b2"/>
<rect x="645.40" y="113.20" width="12.60" height="6.00" rx="1.5" fill="#000000"/>
<rect x="645.30" y="119.90" width="12.80" height="8.90" rx="2" fill="#000000"/>
<path d="M563.80,84 Q563.60,92 562.60,97" fill="none" stroke="#a8a8a8" stroke-width="0.6"/>
<path d="M575.00,84 Q575.20,92 576.20,97" fill="none" stroke="#a8a8a8" stroke-width="0.6"/>
<path d="M579.90,84 Q579.70,92 578.70,97" fill="none" stroke="#a8a8a8" stroke-width="0.6"/>
<path d="M591.10,84 Q591.30,92 592.30,97" fill="none" stroke="#a8a8a8" stroke-width="0.6"/>
<path d="M596.70,84 Q596.50,92 595.50,97" fill="none" stroke="#a8a8a8" stroke-width="0.6"/>
<path d="M607.90,84 Q608.10,92 609.10,97" fill="none" stroke="#a8a8a8" stroke-width="0.6"/>
<path d="M612.60,84 Q612.40,92 611.40,97" fill="none" stroke="#a8a8a8" stroke-width="0.6"/>
<path d="M623.80,84 Q624.00,92 625.00,97" fill="none" stroke="#a8a8a8" stroke-width="0.6"/>
<path d="M629.10,84 Q628.90,92 627.90,97" fill="none" stroke="#a8a8a8" stroke-width="0.6"/>
<path d="M640.30,84 Q640.50,92 641.50,97" fill="none" stroke="#a8a8a8" stroke-width="0.6"/>
<path d="M646.10,84 Q645.90,92 644.90,97" fill="none" stroke="#a8a8a8" stroke-width="0.6"/>
<path d="M657.30,84 Q657.50,92 658.50,97" fill="none" stroke="#a8a8a8" stroke-width="0.6"/>
<path d="M546.40,38.30 Q552.80,40.30 559.20,38.30" fill="none" stroke="#232323" stroke-width="1.4"/>
<path d="M546.40,47.00 Q552.80,49.00 559.20,47.00" fill="none" stroke="#5f5f5f" stroke-width="1.3"/>
<path d="M546.40,63.40 Q552.80,65.40 559.20,63.40" fill="none" stroke="#232323" stroke-width="1.4"/>
<path d="M546.40,89.70 Q552.80,91.70 559.20,89.70" fill="none" stroke="#a5a5a5" stroke-width="1.4"/>
<path d="M546.80,123.40 Q552.80,125.40 558.80,123.40" fill="none" stroke="#cdcdcd" stroke-width="1.3"/>
<path d="M546.80,159.20 Q552.80,161.20 558.80,159.20" fill="none" stroke="#d4d4d4" stroke-width="1.3"/>
<ellipse cx="551.0" cy="209.5" rx="5.6" ry="1.7" fill="#787878"/>
<ellipse cx="551.0" cy="221.3" rx="5.6" ry="1.7" fill="#828282"/>
<ellipse cx="551.0" cy="227.3" rx="5.6" ry="1.7" fill="#696969"/>
<circle cx="558.9" cy="122.6" r="4.6" fill="#fbfbfb"/>
<ellipse cx="651.5" cy="225.8" rx="5" ry="2.4" fill="#fafafa"/>
<circle cx="546.5" cy="173.5" r="1.6" fill="#f8f8f8"/></g>
<path d="M543.4,233.0 L543.4,35.5" stroke="#8a8a8a" stroke-width="0.9" fill="none"/>
<path d="M543.4,35.5 L660.5,35.5" stroke="#444" stroke-width="0.9" fill="none"/>
<path d="M660.5,35.5 L660.5,233.0 L543.4,233.0" stroke="#777" stroke-width="0.9" fill="none"/>
<path d="M574.0,151.85 L576.6,151.85 L576.6,150.70 L579.2,152.20 L576.6,153.70 L576.6,152.55 L574.0,152.55 Z" fill="#111"/>
<path d="M574.0,163.15 L576.6,163.15 L576.6,162.00 L579.2,163.50 L576.6,165.00 L576.6,163.85 L574.0,163.85 Z" fill="#111"/>
<path d="M574.0,191.85 L576.6,191.85 L576.6,190.70 L579.2,192.20 L576.6,193.70 L576.6,192.55 L574.0,192.55 Z" fill="#111"/>
<text x="564.70" y="7.30" font-size="9.2" text-anchor="end" textLength="33.70" lengthAdjust="spacingAndGlyphs"><tspan font-style="italic">Ror</tspan>Slfn5</text>
<text x="564.70" y="17.80" font-size="9.2" text-anchor="end" textLength="24.30" lengthAdjust="spacingAndGlyphs">T5.142</text>
<text x="520.60" y="29.20" font-size="9.2" textLength="41.20" lengthAdjust="spacingAndGlyphs">Time (min)</text>
<text x="587.00" y="7.30" font-size="9.2" text-anchor="middle" textLength="12.10" lengthAdjust="spacingAndGlyphs">WT</text>
<text x="637.30" y="7.30" font-size="9.2" text-anchor="middle" textLength="45.20" lengthAdjust="spacingAndGlyphs">E15A, D20A</text>
<text x="587.30" y="17.60" font-size="8.4" text-anchor="middle">+</text>
<text x="637.30" y="17.60" font-size="8.4" text-anchor="middle">+</text>
<line x1="567.10" y1="20.70" x2="607.20" y2="20.70" stroke="#444" stroke-width="0.8" />
<line x1="617.90" y1="20.70" x2="657.40" y2="20.70" stroke="#444" stroke-width="0.8" />
<text x="569.30" y="30.20" font-size="7.9" text-anchor="middle">0</text>
<text x="586.50" y="30.20" font-size="7.9" text-anchor="middle">30</text>
<text x="602.30" y="30.20" font-size="7.9" text-anchor="middle">60</text>
<text x="619.50" y="30.20" font-size="7.9" text-anchor="middle">0</text>
<text x="636.00" y="30.20" font-size="7.9" text-anchor="middle">30</text>
<text x="652.10" y="30.20" font-size="7.9" text-anchor="middle">60</text>
<text x="536.40" y="41.60" font-size="8.0" text-anchor="end">1,000</text>
<line x1="540.80" y1="39.00" x2="543.00" y2="39.00" stroke="#555" stroke-width="0.8" />
<text x="536.40" y="49.50" font-size="8.0" text-anchor="end">500</text>
<line x1="540.80" y1="46.90" x2="543.00" y2="46.90" stroke="#555" stroke-width="0.8" />
<text x="536.40" y="66.40" font-size="8.0" text-anchor="end">300</text>
<line x1="540.80" y1="63.80" x2="543.00" y2="63.80" stroke="#555" stroke-width="0.8" />
<text x="536.40" y="93.30" font-size="8.0" text-anchor="end">150</text>
<line x1="540.80" y1="90.70" x2="543.00" y2="90.70" stroke="#555" stroke-width="0.8" />
<text x="536.40" y="127.00" font-size="8.0" text-anchor="end">80</text>
<line x1="540.80" y1="124.40" x2="543.00" y2="124.40" stroke="#555" stroke-width="0.8" />
<text x="536.40" y="162.90" font-size="8.0" text-anchor="end">50</text>
<line x1="540.80" y1="160.30" x2="543.00" y2="160.30" stroke="#555" stroke-width="0.8" />
<text x="536.40" y="212.10" font-size="8.0" text-anchor="end">25</text>
<line x1="540.80" y1="209.50" x2="543.00" y2="209.50" stroke="#555" stroke-width="0.8" />
<text x="536.40" y="223.90" font-size="8.0" text-anchor="end">21</text>
<line x1="540.80" y1="221.30" x2="543.00" y2="221.30" stroke="#555" stroke-width="0.8" />
<text x="536.40" y="229.90" font-size="8.0" text-anchor="end">17</text>
<line x1="540.80" y1="227.30" x2="543.00" y2="227.30" stroke="#555" stroke-width="0.8" />
<text x="531.60" y="239.20" font-size="9.2" textLength="7.30" lengthAdjust="spacingAndGlyphs">nt</text>
<text x="554.30" y="243.20" font-size="9.2" textLength="94.70" lengthAdjust="spacingAndGlyphs">Urea–PAGE of total RNA</text>
<text x="664.60" y="96.50" font-size="9.2" textLength="9.50" lengthAdjust="spacingAndGlyphs">5S</text>
<text x="664.60" y="105.60" font-size="9.2" textLength="20.00" lengthAdjust="spacingAndGlyphs">rRNA</text>
<text x="664.90" y="121.90" font-size="9.2" textLength="19.50" lengthAdjust="spacingAndGlyphs">tRNA</text>
<text x="666.80" y="144.30" font-size="9.2" textLength="62.40" lengthAdjust="spacingAndGlyphs" transform="rotate(90 666.80 144.30)">tRNA cleavage?</text>
<text x="27.30" y="285.70" font-size="9.2" textLength="38.50" lengthAdjust="spacingAndGlyphs">T5 phage,</text>
<text x="27.30" y="295.80" font-size="9.2" textLength="27.20" lengthAdjust="spacingAndGlyphs">MOI 10</text>
<rect x="18.90" y="301.60" width="64.80" height="25.00" fill="#fce4b4" stroke="#c27e2c" stroke-width="1.5" rx="12.5" />
<circle cx="34.0" cy="313.80" r="7.0" fill="none" stroke="#a3a3a3" stroke-width="1.5"/>
<path d="M32.78,306.91 A7,7 0 0 1 41.00,313.80" fill="none" stroke="#fb0d0d" stroke-width="1.8"/>
<path d="M38.40,313.20 L43.60,313.20 L41.00,316.80 Z" fill="#fb0d0d"/>
<ellipse cx="51.0" cy="314.50" rx="4.0" ry="4.3" transform="rotate(0 51.0 314.50)" fill="none" stroke="#000" stroke-width="1.15"/>
<ellipse cx="52.6" cy="315.60" rx="1.9" ry="2.0" transform="rotate(0 52.6 315.60)" fill="none" stroke="#000" stroke-width="1.15"/>
<ellipse cx="63.6" cy="313.20" rx="3.7" ry="3.6" transform="rotate(0 63.6 313.20)" fill="none" stroke="#000" stroke-width="1.15"/>
<ellipse cx="66.3" cy="310.10" rx="2.1" ry="1.9" transform="rotate(0 66.3 310.10)" fill="none" stroke="#000" stroke-width="1.15"/>
<ellipse cx="73.2" cy="315.80" rx="4.9" ry="5.6" transform="rotate(-10 73.2 315.80)" fill="none" stroke="#000" stroke-width="1.15"/>
<ellipse cx="71.4" cy="318.50" rx="2.4" ry="2.2" transform="rotate(0 71.4 318.50)" fill="none" stroke="#000" stroke-width="1.15"/>
<path d="M53.5,310.5 C54.5,306.5 57.5,305.0 60.5,305.1 C63.5,305.2 65.2,306.5 65.8,308.6" transform="translate(0 0.20)" fill="none" stroke="#000" stroke-width="1.15"/>
<path d="M54.8,318.8 C58.5,322.0 64.5,321.8 69.0,320.8" transform="translate(0 0.20)" fill="none" stroke="#000" stroke-width="1.15"/>
<path d="M58.5,313.0 C56.5,314.5 56.8,318.0 59.8,318.6 C62.5,319.2 62.8,316.5 61.2,315.6" transform="translate(0 0.20)" fill="none" stroke="#000" stroke-width="1.15"/>
<path d="M56.0,312.5 C58.0,309.5 62.0,308.8 64.5,310.0" transform="translate(0 0.20)" fill="none" stroke="#000" stroke-width="1.15"/>
<path d="M62.0,316.5 C64.5,319.5 68.5,320.0 70.0,317.5" transform="translate(0 0.20)" fill="none" stroke="#000" stroke-width="1.15"/>
<path d="M67.5,311.5 C69.5,309.8 72.5,310.2 73.0,312.5" transform="translate(0 0.20)" fill="none" stroke="#000" stroke-width="1.15"/>
<polygon points="79.96,282.78 84.17,286.32 83.21,291.74 78.04,293.62 73.83,290.08 74.79,284.66" fill="#e84b38"/>
<path d="M77.00,292.40 L79.40,292.40 L76.80,301.10 L75.30,301.10 Z" fill="#e84b38"/>
<ellipse cx="76.00" cy="301.10" rx="1.6" ry="0.9" fill="#e84b38"/>
<path d="M76.00,301.10 L71.00,298.10 L68.60,302.50" fill="none" stroke="#e84b38" stroke-width="0.6" stroke-linejoin="round"/>
<path d="M76.00,301.10 L80.80,298.50 L83.20,303.50" fill="none" stroke="#e84b38" stroke-width="0.6" stroke-linejoin="round"/>
<path d="M76.00,301.10 L71.75,298.85 L69.35,303.25" fill="none" stroke="#e84b38" stroke-width="0.6" stroke-linejoin="round"/>
<path d="M76.00,301.10 L80.05,299.25 L82.45,304.25" fill="none" stroke="#e84b38" stroke-width="0.6" stroke-linejoin="round"/>
<path d="M76.00,301.10 L72.50,299.60 L70.10,304.00" fill="none" stroke="#e84b38" stroke-width="0.6" stroke-linejoin="round"/>
<path d="M76.00,301.10 L79.30,300.00 L81.70,305.00" fill="none" stroke="#e84b38" stroke-width="0.6" stroke-linejoin="round"/>
<path d="M76.00,301.10 L70.80,307.10" fill="none" stroke="#e84b38" stroke-width="0.6" stroke-linejoin="round"/>
<path d="M76.00,301.10 L72.40,307.50" fill="none" stroke="#e84b38" stroke-width="0.6" stroke-linejoin="round"/>
<path d="M76.00,301.10 L79.00,308.10" fill="none" stroke="#e84b38" stroke-width="0.6" stroke-linejoin="round"/>
<path d="M76.00,301.10 L80.80,307.30" fill="none" stroke="#e84b38" stroke-width="0.6" stroke-linejoin="round"/>
<text x="109.00" y="276.20" font-size="9.2" textLength="124.20" lengthAdjust="spacingAndGlyphs">Active <tspan font-style="italic">Ror</tspan>Slfn5 phage defence</text>
<text x="106.20" y="300.70" font-size="9.2" text-anchor="middle" textLength="19.00" lengthAdjust="spacingAndGlyphs">Total</text>
<text x="106.00" y="310.70" font-size="9.2" text-anchor="middle" textLength="16.50" lengthAdjust="spacingAndGlyphs">RNA</text>
<line x1="92.20" y1="316.00" x2="118.00" y2="316.00" stroke="#231f20" stroke-width="0.8" />
<path d="M120.20,316.00 L116.46,314.24 L117.12,316.00 L116.46,317.76 Z" fill="#231f20"/>
<text x="121.70" y="301.30" font-size="9.2" textLength="6.80" lengthAdjust="spacingAndGlyphs">5′</text>
<path d="M129.00,300.60 C134.34,300.60 132.92,293.90 137.90,293.90 C142.88,293.90 141.46,300.60 146.80,300.60" fill="none" stroke="#ff2a2a" stroke-width="1.9" stroke-linecap="round"/>
<text x="147.70" y="301.30" font-size="9.2" textLength="6.60" lengthAdjust="spacingAndGlyphs">3′</text>
<text x="157.00" y="301.30" font-size="9.2" textLength="6.70" lengthAdjust="spacingAndGlyphs">5′</text>
<path d="M163.60,300.60 C167.80,300.60 166.68,293.90 170.60,293.90 C174.52,293.90 173.40,300.60 177.60,300.60" fill="none" stroke="#ff2a2a" stroke-width="1.9" stroke-linecap="round"/>
<text x="179.70" y="301.30" font-size="9.2" textLength="6.30" lengthAdjust="spacingAndGlyphs">3′</text>
<text x="148.70" y="288.70" font-size="9.2" textLength="14.30" lengthAdjust="spacingAndGlyphs">Cut</text>
<path d="M153.9,291.5 L158.5,291.5 L156.2,295.2 Z" fill="#000"/>
<text x="139.70" y="313.80" font-size="9.2" textLength="32.30" lengthAdjust="spacingAndGlyphs">Cleaved</text>
<text x="134.50" y="323.20" font-size="9.2" textLength="42.00" lengthAdjust="spacingAndGlyphs">target RNA</text>
<text x="201.70" y="299.50" font-size="9.2" textLength="24.50" lengthAdjust="spacingAndGlyphs">3′-end</text>
<text x="191.20" y="309.70" font-size="9.2" textLength="45.80" lengthAdjust="spacingAndGlyphs">sequencing</text>
<line x1="200.20" y1="316.00" x2="226.20" y2="316.00" stroke="#231f20" stroke-width="0.8" />
<path d="M228.40,316.00 L224.66,314.24 L225.32,316.00 L224.66,317.76 Z" fill="#231f20"/>
<text x="254.80" y="287.70" font-size="9.2" textLength="63.40" lengthAdjust="spacingAndGlyphs">3′-end mapping</text>
<path d="M253.5,296.60 L253.5,324.20 L318.2,324.20" fill="none" stroke="#222" stroke-width="0.9"/>
<text x="0.00" y="0.00" font-size="9.2" textLength="17.00" lengthAdjust="spacingAndGlyphs" transform="translate(250.8 318.70) rotate(-90)">CPM</text>
<text x="263.40" y="333.10" font-size="9.2" textLength="44.50" lengthAdjust="spacingAndGlyphs">Target RNA</text>
<rect x="272.50" y="316.00" width="3.00" height="7.80" fill="#fb0d0d" stroke="none" stroke-width="1" rx="0" />
<rect x="276.20" y="301.70" width="2.80" height="22.10" fill="#fb0d0d" stroke="none" stroke-width="1" rx="0" />
<rect x="279.70" y="320.20" width="3.00" height="3.60" fill="#fb0d0d" stroke="none" stroke-width="1" rx="0" />
<rect x="313.00" y="297.70" width="3.00" height="26.10" fill="#fb0d0d" stroke="none" stroke-width="1" rx="0" />
<text x="260.20" y="310.00" font-size="9.2" textLength="13.80" lengthAdjust="spacingAndGlyphs">Cut</text>
<text x="81.70" y="345.20" font-size="9.2" textLength="80.60" lengthAdjust="spacingAndGlyphs">Inactivated <tspan font-style="italic">Ror</tspan>Slfn5</text>
<text x="162.70" y="341.60" font-size="5.4" textLength="32.20" lengthAdjust="spacingAndGlyphs">D15A, D20A</text>
<text x="200.40" y="345.20" font-size="9.2" textLength="59.30" lengthAdjust="spacingAndGlyphs">phage defence</text>
<text x="24.50" y="359.50" font-size="9.2" textLength="38.70" lengthAdjust="spacingAndGlyphs">T5 phage,</text>
<text x="24.50" y="369.20" font-size="9.2" textLength="26.70" lengthAdjust="spacingAndGlyphs">MOI 10</text>
<rect x="18.90" y="374.80" width="64.80" height="25.00" fill="#fce4b4" stroke="#c27e2c" stroke-width="1.5" rx="12.5" />
<circle cx="34.0" cy="387.00" r="7.0" fill="none" stroke="#a3a3a3" stroke-width="1.5"/>
<path d="M34.00,380.00 A7,7 0 0 1 40.97,387.61" fill="none" stroke="#56698a" stroke-width="1.3"/>
<path d="M38.90,386.80 L43.10,386.80 L41.00,389.60 Z" fill="#56698a"/>
<circle cx="35.20" cy="380.20" r="1.3" fill="#d8343a"/>
<ellipse cx="51.0" cy="387.70" rx="4.0" ry="4.3" transform="rotate(0 51.0 387.70)" fill="none" stroke="#000" stroke-width="1.15"/>
<ellipse cx="52.6" cy="388.80" rx="1.9" ry="2.0" transform="rotate(0 52.6 388.80)" fill="none" stroke="#000" stroke-width="1.15"/>
<ellipse cx="63.6" cy="386.40" rx="3.7" ry="3.6" transform="rotate(0 63.6 386.40)" fill="none" stroke="#000" stroke-width="1.15"/>
<ellipse cx="66.3" cy="383.30" rx="2.1" ry="1.9" transform="rotate(0 66.3 383.30)" fill="none" stroke="#000" stroke-width="1.15"/>
<ellipse cx="73.2" cy="389.00" rx="4.9" ry="5.6" transform="rotate(-10 73.2 389.00)" fill="none" stroke="#000" stroke-width="1.15"/>
<ellipse cx="71.4" cy="391.70" rx="2.4" ry="2.2" transform="rotate(0 71.4 391.70)" fill="none" stroke="#000" stroke-width="1.15"/>
<path d="M53.5,310.5 C54.5,306.5 57.5,305.0 60.5,305.1 C63.5,305.2 65.2,306.5 65.8,308.6" transform="translate(0 73.40)" fill="none" stroke="#000" stroke-width="1.15"/>
<path d="M54.8,318.8 C58.5,322.0 64.5,321.8 69.0,320.8" transform="translate(0 73.40)" fill="none" stroke="#000" stroke-width="1.15"/>
<path d="M58.5,313.0 C56.5,314.5 56.8,318.0 59.8,318.6 C62.5,319.2 62.8,316.5 61.2,315.6" transform="translate(0 73.40)" fill="none" stroke="#000" stroke-width="1.15"/>
<path d="M56.0,312.5 C58.0,309.5 62.0,308.8 64.5,310.0" transform="translate(0 73.40)" fill="none" stroke="#000" stroke-width="1.15"/>
<path d="M62.0,316.5 C64.5,319.5 68.5,320.0 70.0,317.5" transform="translate(0 73.40)" fill="none" stroke="#000" stroke-width="1.15"/>
<path d="M67.5,311.5 C69.5,309.8 72.5,310.2 73.0,312.5" transform="translate(0 73.40)" fill="none" stroke="#000" stroke-width="1.15"/>
<polygon points="79.66,355.58 83.87,359.12 82.91,364.54 77.74,366.42 73.53,362.88 74.49,357.46" fill="#e84b38"/>
<path d="M76.70,365.20 L79.10,365.20 L76.50,373.90 L75.00,373.90 Z" fill="#e84b38"/>
<ellipse cx="75.70" cy="373.90" rx="1.6" ry="0.9" fill="#e84b38"/>
<path d="M75.70,373.90 L70.70,370.90 L68.30,375.30" fill="none" stroke="#e84b38" stroke-width="0.6" stroke-linejoin="round"/>
<path d="M75.70,373.90 L80.50,371.30 L82.90,376.30" fill="none" stroke="#e84b38" stroke-width="0.6" stroke-linejoin="round"/>
<path d="M75.70,373.90 L71.45,371.65 L69.05,376.05" fill="none" stroke="#e84b38" stroke-width="0.6" stroke-linejoin="round"/>
<path d="M75.70,373.90 L79.75,372.05 L82.15,377.05" fill="none" stroke="#e84b38" stroke-width="0.6" stroke-linejoin="round"/>
<path d="M75.70,373.90 L72.20,372.40 L69.80,376.80" fill="none" stroke="#e84b38" stroke-width="0.6" stroke-linejoin="round"/>
<path d="M75.70,373.90 L79.00,372.80 L81.40,377.80" fill="none" stroke="#e84b38" stroke-width="0.6" stroke-linejoin="round"/>
<path d="M75.70,373.90 L70.50,379.90" fill="none" stroke="#e84b38" stroke-width="0.6" stroke-linejoin="round"/>
<path d="M75.70,373.90 L72.10,380.30" fill="none" stroke="#e84b38" stroke-width="0.6" stroke-linejoin="round"/>
<path d="M75.70,373.90 L78.70,380.90" fill="none" stroke="#e84b38" stroke-width="0.6" stroke-linejoin="round"/>
<path d="M75.70,373.90 L80.50,380.10" fill="none" stroke="#e84b38" stroke-width="0.6" stroke-linejoin="round"/>
<text x="106.20" y="374.50" font-size="9.2" text-anchor="middle" textLength="19.00" lengthAdjust="spacingAndGlyphs">Total</text>
<text x="106.00" y="384.40" font-size="9.2" text-anchor="middle" textLength="16.50" lengthAdjust="spacingAndGlyphs">RNA</text>
<line x1="92.20" y1="389.60" x2="118.00" y2="389.60" stroke="#231f20" stroke-width="0.8" />
<path d="M120.20,389.60 L116.46,387.84 L117.12,389.60 L116.46,391.36 Z" fill="#231f20"/>
<text x="123.20" y="375.20" font-size="9.2" textLength="6.00" lengthAdjust="spacingAndGlyphs">5′</text>
<path d="M129.40,374.20 L129.64,374.31 L129.89,374.40 L130.13,374.46 L130.37,374.50 L130.62,374.50 L130.86,374.47 L131.10,374.41 L131.34,374.32 L131.59,374.20 L131.83,374.06 L132.07,373.89 L132.32,373.69 L132.56,373.47 L132.80,373.23 L133.05,372.97 L133.29,372.70 L133.53,372.41 L133.77,372.11 L134.02,371.80 L134.26,371.48 L134.50,371.16 L134.75,370.84 L134.99,370.52 L135.23,370.21 L135.47,369.91 L135.72,369.61 L135.96,369.33 L136.20,369.07 L136.45,368.82 L136.69,368.59 L136.93,368.39 L137.18,368.21 L137.42,368.05 L137.66,367.92 L137.91,367.82 L138.15,367.75 L138.39,367.71 L138.63,367.70 L138.88,367.72 L139.12,367.77 L139.36,367.85 L139.61,367.96 L139.85,368.09 L140.09,368.25 L140.34,368.44 L140.58,368.65 L140.82,368.89 L141.06,369.14 L141.31,369.41 L141.55,369.69 L141.79,369.99 L142.04,370.30 L142.28,370.61 L142.52,370.93 L142.77,371.25 L143.01,371.57 L143.25,371.89 L143.49,372.19 L143.74,372.49 L143.98,372.78 L144.22,373.05 L144.47,373.30 L144.71,373.54 L144.95,373.75 L145.19,373.94 L145.44,374.10 L145.68,374.24 L145.92,374.35 L146.17,374.43 L146.41,374.48 L146.65,374.50 L146.90,374.49 L147.14,374.45 L147.38,374.38 L147.62,374.28 L147.87,374.16 L148.11,374.00 L148.35,373.82 L148.60,373.62 L148.84,373.39 L149.08,373.15 L149.33,372.88 L149.57,372.60 L149.81,372.31 L150.06,372.01 L150.30,371.69 L150.54,371.38 L150.78,371.06 L151.03,370.74 L151.27,370.42 L151.51,370.11 L151.76,369.81 L152.00,369.52 L152.24,369.24 L152.49,368.98 L152.73,368.74 L152.97,368.52 L153.21,368.32 L153.46,368.15 L153.70,368.00 L153.94,367.89 L154.19,367.80 L154.43,367.74 L154.67,367.70 L154.91,367.70 L155.16,367.73 L155.40,367.79 L155.64,367.88 L155.89,368.00 L156.13,368.14 L156.37,368.31 L156.62,368.51 L156.86,368.73 L157.10,368.97 L157.34,369.23 L157.59,369.50 L157.83,369.79 L158.07,370.09 L158.32,370.40 L158.56,370.72 L158.80,371.04 L159.05,371.36 L159.29,371.68 L159.53,371.99 L159.78,372.29 L160.02,372.59 L160.26,372.87 L160.50,373.13 L160.75,373.38 L160.99,373.61 L161.23,373.81 L161.48,373.99 L161.72,374.15 L161.96,374.28 L162.21,374.38 L162.45,374.45 L162.69,374.49 L162.93,374.50 L163.18,374.48 L163.42,374.43 L163.66,374.35 L163.91,374.24 L164.15,374.11 L164.39,373.95 L164.63,373.76 L164.88,373.55 L165.12,373.31 L165.36,373.06 L165.61,372.79 L165.85,372.51 L166.09,372.21 L166.34,371.90 L166.58,371.59 L166.82,371.27 L167.06,370.95 L167.31,370.63 L167.55,370.31 L167.79,370.01 L168.04,369.71 L168.28,369.42 L168.52,369.15 L168.77,368.90 L169.01,368.66 L169.25,368.45 L169.50,368.26 L169.74,368.10 L169.98,367.96 L170.22,367.85 L170.47,367.77 L170.71,367.72 L170.95,367.70 L171.20,367.71 L171.44,367.75 L171.68,367.82 L171.93,367.92 L172.17,368.04 L172.41,368.20 L172.65,368.38 L172.90,368.58 L173.14,368.81 L173.38,369.05 L173.63,369.32 L173.87,369.60 L174.11,369.89 L174.36,370.19 L174.60,370.51 L174.84,370.82 L175.08,371.14 L175.33,371.46 L175.57,371.78 L175.81,372.09 L176.06,372.39 L176.30,372.68 L176.54,372.96 L176.78,373.22 L177.03,373.46 L177.27,373.68 L177.51,373.88 L177.76,374.05 L178.00,374.20" fill="none" stroke="#000" stroke-width="1.8" stroke-linecap="round"/>
<text x="179.80" y="375.20" font-size="9.2" textLength="5.90" lengthAdjust="spacingAndGlyphs">3′</text>
<text x="133.00" y="387.90" font-size="9.2" textLength="42.00" lengthAdjust="spacingAndGlyphs">Uncleaved</text>
<text x="133.00" y="397.70" font-size="9.2" textLength="42.70" lengthAdjust="spacingAndGlyphs">target RNA</text>
<text x="201.70" y="373.30" font-size="9.2" textLength="24.50" lengthAdjust="spacingAndGlyphs">3′-end</text>
<text x="191.20" y="383.50" font-size="9.2" textLength="45.80" lengthAdjust="spacingAndGlyphs">sequencing</text>
<line x1="200.20" y1="389.60" x2="226.20" y2="389.60" stroke="#231f20" stroke-width="0.8" />
<path d="M228.40,389.60 L224.66,387.84 L225.32,389.60 L224.66,391.36 Z" fill="#231f20"/>
<text x="254.80" y="361.70" font-size="9.2" textLength="63.40" lengthAdjust="spacingAndGlyphs">3′-end mapping</text>
<path d="M253.5,368.00 L253.5,395.60 L318.2,395.60" fill="none" stroke="#222" stroke-width="0.9"/>
<text x="0.00" y="0.00" font-size="9.2" textLength="17.00" lengthAdjust="spacingAndGlyphs" transform="translate(250.8 390.10) rotate(-90)">CPM</text>
<text x="263.40" y="404.50" font-size="9.2" textLength="44.50" lengthAdjust="spacingAndGlyphs">Target RNA</text>
<rect x="313.00" y="369.20" width="3.00" height="26.00" fill="#000" stroke="none" stroke-width="1" rx="0" />
<text x="367.40" y="276.60" font-size="9.2" textLength="102.60" lengthAdjust="spacingAndGlyphs">Total internal RNA 3′ ends</text>
<rect x="364.20" y="280.40" width="111.80" height="112.60" fill="none" stroke="#a9a9a9" stroke-width="1.1" rx="0" />
<line x1="361.00" y1="284.00" x2="364.20" y2="284.00" stroke="#a9a9a9" stroke-width="1.0" />
<text x="358.20" y="286.60" font-size="8.3" text-anchor="end" fill="#333">3</text>
<line x1="361.00" y1="320.30" x2="364.20" y2="320.30" stroke="#a9a9a9" stroke-width="1.0" />
<text x="358.20" y="322.90" font-size="8.3" text-anchor="end" fill="#333">2</text>
<line x1="361.00" y1="356.50" x2="364.20" y2="356.50" stroke="#a9a9a9" stroke-width="1.0" />
<text x="358.20" y="359.10" font-size="8.3" text-anchor="end" fill="#333">1</text>
<line x1="361.00" y1="392.80" x2="364.20" y2="392.80" stroke="#a9a9a9" stroke-width="1.0" />
<text x="358.20" y="395.40" font-size="8.3" text-anchor="end" fill="#333">0</text>
<text x="0" y="0" font-size="8.9" text-anchor="middle" transform="translate(348.4 336.6) rotate(-90)">CPM (×10<tspan font-size="5.8" dy="-3.2">5</tspan><tspan dy="3.2">)</tspan></text>
<rect x="396.20" y="284.50" width="7.50" height="7.50" fill="#e4492f" stroke="#333" stroke-width="0.6" rx="0" />
<rect x="396.20" y="296.80" width="7.50" height="7.50" fill="#41b6d6" stroke="#333" stroke-width="0.6" rx="0" />
<text x="407.70" y="291.20" font-size="9.2" textLength="34.50" lengthAdjust="spacingAndGlyphs"><tspan font-style="italic">Ror</tspan>Slfn5</text>
<text x="407.70" y="303.20" font-size="9.2" textLength="66.30" lengthAdjust="spacingAndGlyphs"><tspan font-style="italic">Ror</tspan>Slfn5<tspan font-size="5.6" dy="-3.6">E15A, D20A</tspan></text>
<rect x="370.00" y="312.00" width="7.90" height="80.80" fill="#e4492f" stroke="#8a2a1a" stroke-width="0.5" rx="0" />
<rect x="378.00" y="332.70" width="7.70" height="60.10" fill="#41b6d6" stroke="#2a6f86" stroke-width="0.5" rx="0" />
<line x1="374.80" y1="303.00" x2="374.80" y2="321.00" stroke="#444" stroke-width="0.6" />
<line x1="373.20" y1="303.00" x2="376.40" y2="303.00" stroke="#444" stroke-width="0.6" />
<line x1="373.20" y1="321.00" x2="376.40" y2="321.00" stroke="#444" stroke-width="0.6" />
<circle cx="374.80" cy="303.00" r="1.25" fill="#fff" stroke="#444" stroke-width="0.6"/>
<circle cx="374.60" cy="311.00" r="1.25" fill="#fff" stroke="#444" stroke-width="0.6"/>
<circle cx="373.30" cy="321.00" r="1.25" fill="#fff" stroke="#444" stroke-width="0.6"/>
<line x1="382.70" y1="318.30" x2="382.70" y2="345.70" stroke="#444" stroke-width="0.6" />
<line x1="381.10" y1="318.30" x2="384.30" y2="318.30" stroke="#444" stroke-width="0.6" />
<line x1="381.10" y1="345.70" x2="384.30" y2="345.70" stroke="#444" stroke-width="0.6" />
<circle cx="382.70" cy="318.30" r="1.25" fill="#fff" stroke="#444" stroke-width="0.6"/>
<circle cx="380.80" cy="336.20" r="1.25" fill="#fff" stroke="#444" stroke-width="0.6"/>
<circle cx="381.20" cy="344.60" r="1.25" fill="#fff" stroke="#444" stroke-width="0.6"/>
<circle cx="403.50" cy="391.90" r="1.25" fill="#fff" stroke="#444" stroke-width="0.6"/>
<circle cx="406.50" cy="391.90" r="1.25" fill="#fff" stroke="#444" stroke-width="0.6"/>
<circle cx="409.50" cy="391.90" r="1.25" fill="#fff" stroke="#444" stroke-width="0.6"/>
<circle cx="412.50" cy="391.90" r="1.25" fill="#fff" stroke="#444" stroke-width="0.6"/>
<circle cx="415.50" cy="391.90" r="1.25" fill="#fff" stroke="#444" stroke-width="0.6"/>
<rect x="429.80" y="389.40" width="7.30" height="3.40" fill="#e4492f" stroke="#8a2a1a" stroke-width="0.5" rx="0" />
<rect x="437.10" y="390.20" width="8.20" height="2.60" fill="#41b6d6" stroke="#2a6f86" stroke-width="0.5" rx="0" />
<circle cx="431.50" cy="389.00" r="1.25" fill="#fff" stroke="#444" stroke-width="0.6"/>
<circle cx="433.50" cy="390.50" r="1.25" fill="#fff" stroke="#444" stroke-width="0.6"/>
<circle cx="439.50" cy="390.50" r="1.25" fill="#fff" stroke="#444" stroke-width="0.6"/>
<circle cx="442.50" cy="390.00" r="1.25" fill="#fff" stroke="#444" stroke-width="0.6"/>
<rect x="457.20" y="363.90" width="6.90" height="28.90" fill="#e4492f" stroke="#8a2a1a" stroke-width="0.5" rx="0" />
<rect x="464.10" y="388.30" width="7.70" height="4.50" fill="#41b6d6" stroke="#2a6f86" stroke-width="0.5" rx="0" />
<circle cx="460.50" cy="362.50" r="1.25" fill="#fff" stroke="#444" stroke-width="0.6"/>
<circle cx="461.50" cy="364.50" r="1.25" fill="#fff" stroke="#444" stroke-width="0.6"/>
<circle cx="467.50" cy="387.50" r="1.25" fill="#fff" stroke="#444" stroke-width="0.6"/>
<circle cx="468.80" cy="388.30" r="1.25" fill="#fff" stroke="#444" stroke-width="0.6"/>
<text x="377.85" y="293.50" font-size="9.2" text-anchor="middle" textLength="11.30" lengthAdjust="spacingAndGlyphs">NS</text>
<path d="M373.20,295.40 L373.20,296.40 L382.50,296.40 L382.50,295.40" fill="none" stroke="#444" stroke-width="0.6"/>
<text x="410.05" y="379.80" font-size="9.2" text-anchor="middle" textLength="11.50" lengthAdjust="spacingAndGlyphs">NS</text>
<path d="M405.30,380.80 L405.30,381.80 L414.80,381.80 L414.80,380.80" fill="none" stroke="#444" stroke-width="0.6"/>
<text x="437.55" y="379.80" font-size="9.2" text-anchor="middle" textLength="11.90" lengthAdjust="spacingAndGlyphs">NS</text>
<path d="M432.60,380.80 L432.60,381.80 L442.50,381.80 L442.50,380.80" fill="none" stroke="#444" stroke-width="0.6"/>
<text x="415.60" y="353.30" font-size="9.2" textLength="58.90" lengthAdjust="spacingAndGlyphs"><tspan font-style="italic">P</tspan><tspan font-size="5.8" dy="2.6">adj</tspan><tspan dy="-2.6"> = 3.4 × 10</tspan><tspan font-size="5.8" dy="-3.6">−3</tspan></text>
<path d="M460.5,355.0 L460.5,356.0 L469.0,356.0 L469.0,355.0" fill="none" stroke="#444" stroke-width="0.6"/>
<text x="377.70" y="403.40" font-size="9.2" text-anchor="middle" textLength="23.30" lengthAdjust="spacingAndGlyphs">mRNA</text>
<text x="409.80" y="403.40" font-size="9.2" text-anchor="middle" textLength="26.30" lengthAdjust="spacingAndGlyphs">ncRNA</text>
<text x="437.40" y="403.40" font-size="9.2" text-anchor="middle" textLength="19.60" lengthAdjust="spacingAndGlyphs">rRNA</text>
<text x="464.80" y="403.40" font-size="9.2" text-anchor="middle" textLength="19.50" lengthAdjust="spacingAndGlyphs">tRNA</text>
<circle cx="502.50" cy="290.20" r="2.4" fill="#e5452d" stroke="#444" stroke-width="0.6"/>
<circle cx="502.50" cy="311.20" r="2.4" fill="#47b5d8" stroke="#444" stroke-width="0.6"/>
<circle cx="502.50" cy="332.50" r="2.4" fill="#169a80" stroke="#444" stroke-width="0.6"/>
<text x="508.80" y="293.50" font-size="9.2" textLength="45.90" lengthAdjust="spacingAndGlyphs">tRNA<tspan font-size="5.6" dy="-3.8">Lys(UUU)</tspan></text>
<text x="508.80" y="309.20" font-size="9.2" textLength="63.40" lengthAdjust="spacingAndGlyphs">Phage-encoded</text>
<text x="508.80" y="319.20" font-size="9.2" textLength="46.20" lengthAdjust="spacingAndGlyphs">tRNA<tspan font-size="5.6" dy="-3.8"><tspan font-style="italic">Ala</tspan>(UGC)</tspan></text>
<text x="508.80" y="335.50" font-size="9.2" textLength="46.90" lengthAdjust="spacingAndGlyphs">tRNA<tspan font-size="5.6" dy="-3.8">Met(CAU)</tspan></text>
<text x="591.60" y="276.60" font-size="9.2" textLength="83.20" lengthAdjust="spacingAndGlyphs">Internal tRNA 3′ ends</text>
<rect x="604.30" y="280.40" width="56.30" height="112.30" fill="none" stroke="#a9a9a9" stroke-width="1.1" rx="0" />
<line x1="601.10" y1="296.80" x2="604.30" y2="296.80" stroke="#a9a9a9" stroke-width="1.0" />
<text x="597.80" y="299.40" font-size="8.3" text-anchor="end" fill="#333">4</text>
<line x1="601.10" y1="319.50" x2="604.30" y2="319.50" stroke="#a9a9a9" stroke-width="1.0" />
<text x="597.80" y="322.10" font-size="8.3" text-anchor="end" fill="#333">3</text>
<line x1="601.10" y1="342.20" x2="604.30" y2="342.20" stroke="#a9a9a9" stroke-width="1.0" />
<text x="597.80" y="344.80" font-size="8.3" text-anchor="end" fill="#333">2</text>
<line x1="601.10" y1="365.10" x2="604.30" y2="365.10" stroke="#a9a9a9" stroke-width="1.0" />
<text x="597.80" y="367.70" font-size="8.3" text-anchor="end" fill="#333">1</text>
<line x1="601.10" y1="387.90" x2="604.30" y2="387.90" stroke="#a9a9a9" stroke-width="1.0" />
<text x="597.80" y="390.50" font-size="8.3" text-anchor="end" fill="#333">0</text>
<text x="0" y="0" font-size="8.9" text-anchor="middle" transform="translate(586.4 336.6) rotate(-90)">CPM (×10<tspan font-size="5.8" dy="-3.2">4</tspan><tspan dy="3.2">)</tspan></text>
<line x1="612.50" y1="392.70" x2="612.50" y2="395.40" stroke="#a9a9a9" stroke-width="1.0" />
<line x1="652.10" y1="392.70" x2="652.10" y2="395.40" stroke="#a9a9a9" stroke-width="1.0" />
<text x="595.10" y="405.30" font-size="9.2" textLength="34.60" lengthAdjust="spacingAndGlyphs">Slfn5<tspan font-size="5.8" dy="-3.8">dead</tspan></text>
<text x="642.30" y="405.30" font-size="9.2" textLength="19.70" lengthAdjust="spacingAndGlyphs">Slfn5</text>
<line x1="612.50" y1="376.00" x2="652.10" y2="380.50" stroke="#cfcfcf" stroke-width="0.8" />
<line x1="612.50" y1="387.30" x2="652.10" y2="379.40" stroke="#cfcfcf" stroke-width="0.8" />
<line x1="612.50" y1="387.30" x2="652.10" y2="386.20" stroke="#cfcfcf" stroke-width="0.8" />
<line x1="612.50" y1="387.30" x2="652.10" y2="387.80" stroke="#cfcfcf" stroke-width="0.8" />
<line x1="612.50" y1="386.20" x2="652.10" y2="387.00" stroke="#cfcfcf" stroke-width="0.8" />
<line x1="612.50" y1="387.30" x2="652.10" y2="290.00" stroke="#ee5a40" stroke-width="0.9" />
<line x1="612.50" y1="387.30" x2="652.10" y2="356.70" stroke="#4cb8d8" stroke-width="1.0" />
<line x1="612.50" y1="387.30" x2="652.10" y2="376.40" stroke="#1a9a80" stroke-width="1.1" />
<circle cx="612.50" cy="376.00" r="2.3" fill="#b5b5b5" stroke="#444" stroke-width="0.6"/>
<circle cx="612.50" cy="385.80" r="2.3" fill="#555" stroke="#444" stroke-width="0.6"/>
<circle cx="652.10" cy="387.80" r="2.3" fill="#b0b0b0" stroke="#444" stroke-width="0.6"/>
<circle cx="652.10" cy="386.20" r="2.3" fill="#777" stroke="#444" stroke-width="0.6"/>
<circle cx="652.10" cy="380.80" r="2.3" fill="#c0c0c0" stroke="#444" stroke-width="0.6"/>
<circle cx="652.10" cy="379.40" r="2.3" fill="#bdbdbd" stroke="#444" stroke-width="0.6"/>
<circle cx="612.50" cy="387.30" r="2.3" fill="#e5452d" stroke="#444" stroke-width="0.6"/>
<circle cx="652.10" cy="376.40" r="2.3" fill="#169a80" stroke="#444" stroke-width="0.6"/>
<circle cx="652.10" cy="356.70" r="2.3" fill="#47b5d8" stroke="#444" stroke-width="0.6"/>
<circle cx="652.20" cy="290.00" r="2.3" fill="#e5452d" stroke="#444" stroke-width="0.6"/>
</svg>
</body></html>
